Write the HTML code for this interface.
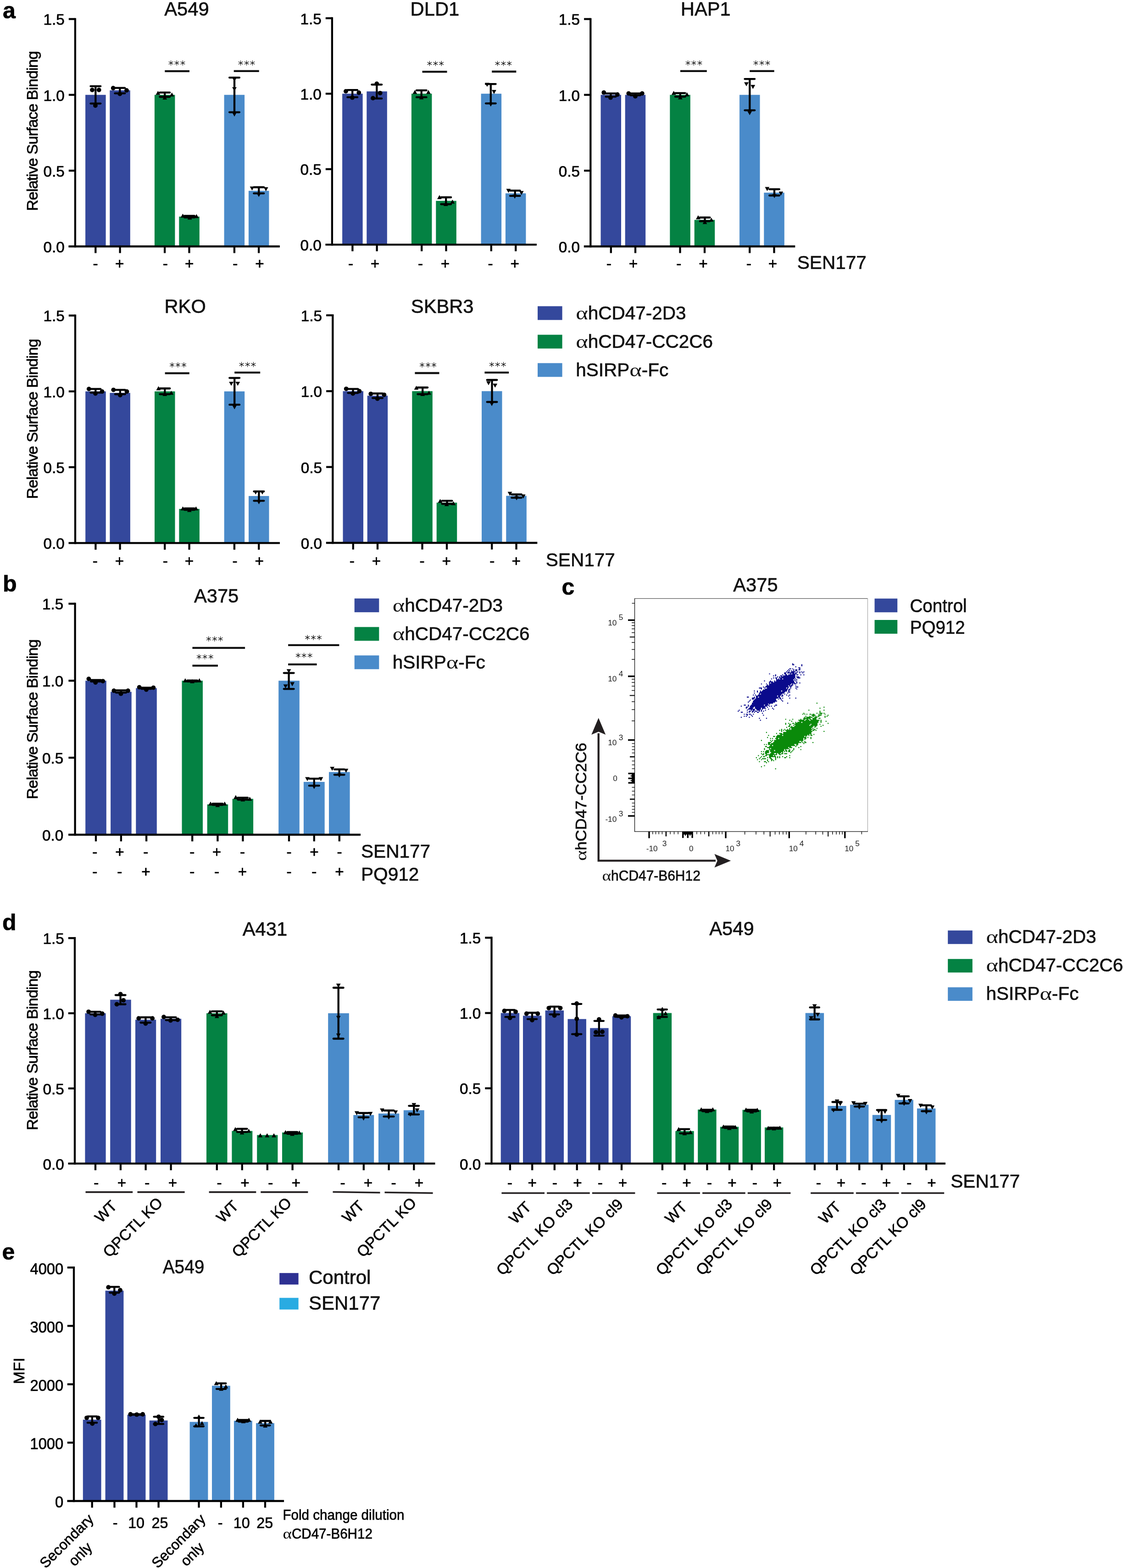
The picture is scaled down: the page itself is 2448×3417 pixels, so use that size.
<!DOCTYPE html>
<html lang="en"><head><meta charset="utf-8"><title>Figure</title>
<style>
html,body{margin:0;padding:0;background:#fff}
svg{display:block}
text{font-family:"Liberation Sans", sans-serif;stroke:#000;stroke-width:.7px}
.b{stroke-width:.6px}
.ft{font-size:17.2px;stroke:none;fill:#222}
.st{font-family:"DejaVu Sans","Liberation Sans",sans-serif;font-weight:200;font-size:22.5px;letter-spacing:1.6px;text-anchor:middle;fill:#111;stroke:#111;stroke-width:.5px}
.al{font-family:"Liberation Serif","DejaVu Serif",serif;stroke:none}
</style></head><body>
<svg width="2448" height="3417" viewBox="0 0 2448 3417">
<rect width="2448" height="3417" fill="#fff"/>
<text x="6" y="39.5" font-size="50" font-weight="bold">a</text>
<rect x="186.1" y="206.7" width="44.5" height="330.3" fill="#34489C"/>
<rect x="239.3" y="196.8" width="44.5" height="340.2" fill="#34489C"/>
<rect x="336.9" y="206.7" width="44.5" height="330.3" fill="#048243"/>
<rect x="390.3" y="472" width="44.5" height="65.1" fill="#048243"/>
<rect x="488.6" y="206.7" width="44.5" height="330.3" fill="#4A8BCA"/>
<rect x="541.9" y="415.8" width="44.5" height="121.2" fill="#4A8BCA"/>
<line x1="163.9" y1="39.4" x2="163.9" y2="539.2" stroke="#000" stroke-width="4.3"/>
<line x1="149.4" y1="537" x2="609.9" y2="537" stroke="#000" stroke-width="4.3"/>
<text x="140.8" y="549.8" font-size="33.3" text-anchor="end">0.0</text>
<line x1="149.8" y1="371.9" x2="163.9" y2="371.9" stroke="#000" stroke-width="4.3"/>
<text x="140.8" y="384.7" font-size="33.3" text-anchor="end">0.5</text>
<line x1="149.8" y1="206.7" x2="163.9" y2="206.7" stroke="#000" stroke-width="4.3"/>
<text x="140.8" y="219.5" font-size="33.3" text-anchor="end">1.0</text>
<line x1="149.8" y1="41.5" x2="163.9" y2="41.5" stroke="#000" stroke-width="4.3"/>
<text x="140.8" y="54.3" font-size="33.3" text-anchor="end">1.5</text>
<line x1="208.3" y1="537" x2="208.3" y2="551.5" stroke="#000" stroke-width="4.3"/>
<line x1="261.6" y1="537" x2="261.6" y2="551.5" stroke="#000" stroke-width="4.3"/>
<line x1="359.1" y1="537" x2="359.1" y2="551.5" stroke="#000" stroke-width="4.3"/>
<line x1="412.5" y1="537" x2="412.5" y2="551.5" stroke="#000" stroke-width="4.3"/>
<line x1="510.9" y1="537" x2="510.9" y2="551.5" stroke="#000" stroke-width="4.3"/>
<line x1="564.1" y1="537" x2="564.1" y2="551.5" stroke="#000" stroke-width="4.3"/>
<text x="407" y="33.8" font-size="41.7" class="b" stroke="#111" text-anchor="middle" fill="#111">A549</text>
<text x="208" y="585.6" font-size="33.3" text-anchor="middle">-</text>
<text x="260.7" y="585.6" font-size="33.3" text-anchor="middle">+</text>
<text x="360.4" y="585.6" font-size="33.3" text-anchor="middle">-</text>
<text x="412.8" y="585.6" font-size="33.3" text-anchor="middle">+</text>
<text x="512.8" y="585.6" font-size="33.3" text-anchor="middle">-</text>
<text x="566" y="585.6" font-size="33.3" text-anchor="middle">+</text>
<text x="82.5" y="285.3" font-size="34" text-anchor="middle" transform="rotate(-90 82.5 285.3)" textLength="349" lengthAdjust="spacing">Relative Surface Binding</text>
<rect x="746.1" y="204.2" width="44.5" height="328.9" fill="#34489C"/>
<rect x="799.3" y="199.2" width="44.5" height="333.9" fill="#34489C"/>
<rect x="896.9" y="204.2" width="44.5" height="328.9" fill="#048243"/>
<rect x="950.3" y="437.7" width="44.5" height="95.4" fill="#048243"/>
<rect x="1048.6" y="204.2" width="44.5" height="328.9" fill="#4A8BCA"/>
<rect x="1101.9" y="421.3" width="44.5" height="111.8" fill="#4A8BCA"/>
<line x1="723.9" y1="37.6" x2="723.9" y2="535.2" stroke="#000" stroke-width="4.3"/>
<line x1="709.4" y1="533.1" x2="1169.9" y2="533.1" stroke="#000" stroke-width="4.3"/>
<text x="700.8" y="545.9" font-size="33.3" text-anchor="end">0.0</text>
<line x1="709.8" y1="368.6" x2="723.9" y2="368.6" stroke="#000" stroke-width="4.3"/>
<text x="700.8" y="381.4" font-size="33.3" text-anchor="end">0.5</text>
<line x1="709.8" y1="204.2" x2="723.9" y2="204.2" stroke="#000" stroke-width="4.3"/>
<text x="700.8" y="217" font-size="33.3" text-anchor="end">1.0</text>
<line x1="709.8" y1="39.7" x2="723.9" y2="39.7" stroke="#000" stroke-width="4.3"/>
<text x="700.8" y="52.5" font-size="33.3" text-anchor="end">1.5</text>
<line x1="768.4" y1="533.1" x2="768.4" y2="547.5" stroke="#000" stroke-width="4.3"/>
<line x1="821.6" y1="533.1" x2="821.6" y2="547.5" stroke="#000" stroke-width="4.3"/>
<line x1="919.2" y1="533.1" x2="919.2" y2="547.5" stroke="#000" stroke-width="4.3"/>
<line x1="972.5" y1="533.1" x2="972.5" y2="547.5" stroke="#000" stroke-width="4.3"/>
<line x1="1070.8" y1="533.1" x2="1070.8" y2="547.5" stroke="#000" stroke-width="4.3"/>
<line x1="1124.2" y1="533.1" x2="1124.2" y2="547.5" stroke="#000" stroke-width="4.3"/>
<text x="947.9" y="33.8" font-size="41.7" class="b" stroke="#111" text-anchor="middle" fill="#111">DLD1</text>
<text x="764.5" y="586" font-size="33.3" text-anchor="middle">-</text>
<text x="817.6" y="586" font-size="33.3" text-anchor="middle">+</text>
<text x="916.6" y="586" font-size="33.3" text-anchor="middle">-</text>
<text x="970.5" y="586" font-size="33.3" text-anchor="middle">+</text>
<text x="1069" y="586" font-size="33.3" text-anchor="middle">-</text>
<text x="1122.2" y="586" font-size="33.3" text-anchor="middle">+</text>
<rect x="1309.5" y="206.7" width="44.5" height="330.3" fill="#34489C"/>
<rect x="1362.7" y="206.7" width="44.5" height="330.3" fill="#34489C"/>
<rect x="1460.3" y="206.7" width="44.5" height="330.3" fill="#048243"/>
<rect x="1513.7" y="479.2" width="44.5" height="57.8" fill="#048243"/>
<rect x="1612" y="206.7" width="44.5" height="330.3" fill="#4A8BCA"/>
<rect x="1665.3" y="419.8" width="44.5" height="117.3" fill="#4A8BCA"/>
<line x1="1287.3" y1="39.4" x2="1287.3" y2="539.2" stroke="#000" stroke-width="4.3"/>
<line x1="1272.8" y1="537" x2="1733.3" y2="537" stroke="#000" stroke-width="4.3"/>
<text x="1264.1" y="549.8" font-size="33.3" text-anchor="end">0.0</text>
<line x1="1273.1" y1="371.9" x2="1287.3" y2="371.9" stroke="#000" stroke-width="4.3"/>
<text x="1264.1" y="384.7" font-size="33.3" text-anchor="end">0.5</text>
<line x1="1273.1" y1="206.7" x2="1287.3" y2="206.7" stroke="#000" stroke-width="4.3"/>
<text x="1264.1" y="219.5" font-size="33.3" text-anchor="end">1.0</text>
<line x1="1273.1" y1="41.5" x2="1287.3" y2="41.5" stroke="#000" stroke-width="4.3"/>
<text x="1264.1" y="54.3" font-size="33.3" text-anchor="end">1.5</text>
<line x1="1331.8" y1="537" x2="1331.8" y2="551.5" stroke="#000" stroke-width="4.3"/>
<line x1="1385" y1="537" x2="1385" y2="551.5" stroke="#000" stroke-width="4.3"/>
<line x1="1482.5" y1="537" x2="1482.5" y2="551.5" stroke="#000" stroke-width="4.3"/>
<line x1="1536" y1="537" x2="1536" y2="551.5" stroke="#000" stroke-width="4.3"/>
<line x1="1634.2" y1="537" x2="1634.2" y2="551.5" stroke="#000" stroke-width="4.3"/>
<line x1="1687.5" y1="537" x2="1687.5" y2="551.5" stroke="#000" stroke-width="4.3"/>
<text x="1538.3" y="33.8" font-size="41.7" class="b" stroke="#111" text-anchor="middle" fill="#111">HAP1</text>
<text x="1327.4" y="586" font-size="33.3" text-anchor="middle">-</text>
<text x="1380.6" y="586" font-size="33.3" text-anchor="middle">+</text>
<text x="1479.8" y="586" font-size="33.3" text-anchor="middle">-</text>
<text x="1533" y="586" font-size="33.3" text-anchor="middle">+</text>
<text x="1632.2" y="586" font-size="33.3" text-anchor="middle">-</text>
<text x="1684.6" y="586" font-size="33.3" text-anchor="middle">+</text>
<text x="1737.8" y="585.6" font-size="40.6" class="b" stroke="#111" fill="#111">SEN177</text>
<rect x="186.2" y="852.9" width="44.5" height="330.5" fill="#34489C"/>
<rect x="239.4" y="856.2" width="44.5" height="327.2" fill="#34489C"/>
<rect x="337" y="852.9" width="44.5" height="330.5" fill="#048243"/>
<rect x="390.4" y="1109" width="44.5" height="74.4" fill="#048243"/>
<rect x="488.7" y="852.9" width="44.5" height="330.5" fill="#4A8BCA"/>
<rect x="542" y="1080.9" width="44.5" height="102.5" fill="#4A8BCA"/>
<line x1="164" y1="685.5" x2="164" y2="1185.6" stroke="#000" stroke-width="4.3"/>
<line x1="149.5" y1="1183.4" x2="610" y2="1183.4" stroke="#000" stroke-width="4.3"/>
<text x="140.8" y="1196.2" font-size="33.3" text-anchor="end">0.0</text>
<line x1="149.8" y1="1018.1" x2="164" y2="1018.1" stroke="#000" stroke-width="4.3"/>
<text x="140.8" y="1030.9" font-size="33.3" text-anchor="end">0.5</text>
<line x1="149.8" y1="852.9" x2="164" y2="852.9" stroke="#000" stroke-width="4.3"/>
<text x="140.8" y="865.7" font-size="33.3" text-anchor="end">1.0</text>
<line x1="149.8" y1="687.6" x2="164" y2="687.6" stroke="#000" stroke-width="4.3"/>
<text x="140.8" y="700.4" font-size="33.3" text-anchor="end">1.5</text>
<line x1="208.4" y1="1183.4" x2="208.4" y2="1197.9" stroke="#000" stroke-width="4.3"/>
<line x1="261.6" y1="1183.4" x2="261.6" y2="1197.9" stroke="#000" stroke-width="4.3"/>
<line x1="359.2" y1="1183.4" x2="359.2" y2="1197.9" stroke="#000" stroke-width="4.3"/>
<line x1="412.6" y1="1183.4" x2="412.6" y2="1197.9" stroke="#000" stroke-width="4.3"/>
<line x1="510.9" y1="1183.4" x2="510.9" y2="1197.9" stroke="#000" stroke-width="4.3"/>
<line x1="564.2" y1="1183.4" x2="564.2" y2="1197.9" stroke="#000" stroke-width="4.3"/>
<text x="403.7" y="682.2" font-size="41.7" class="b" stroke="#111" text-anchor="middle" fill="#111">RKO</text>
<text x="207.4" y="1234.2" font-size="33.3" text-anchor="middle">-</text>
<text x="260.6" y="1234.2" font-size="33.3" text-anchor="middle">+</text>
<text x="360.4" y="1234.2" font-size="33.3" text-anchor="middle">-</text>
<text x="412.4" y="1234.2" font-size="33.3" text-anchor="middle">+</text>
<text x="512" y="1234.2" font-size="33.3" text-anchor="middle">-</text>
<text x="565.2" y="1234.2" font-size="33.3" text-anchor="middle">+</text>
<text x="82.5" y="912.7" font-size="34" text-anchor="middle" transform="rotate(-90 82.5 912.7)" textLength="349" lengthAdjust="spacing">Relative Surface Binding</text>
<rect x="747.5" y="852.4" width="44.5" height="330.6" fill="#34489C"/>
<rect x="800.7" y="862.3" width="44.5" height="320.7" fill="#34489C"/>
<rect x="898.3" y="852.4" width="44.5" height="330.6" fill="#048243"/>
<rect x="951.7" y="1095.4" width="44.5" height="87.6" fill="#048243"/>
<rect x="1050" y="852.4" width="44.5" height="330.6" fill="#4A8BCA"/>
<rect x="1103.3" y="1080.5" width="44.5" height="102.5" fill="#4A8BCA"/>
<line x1="725.3" y1="685" x2="725.3" y2="1185.2" stroke="#000" stroke-width="4.3"/>
<line x1="710.8" y1="1183" x2="1171.3" y2="1183" stroke="#000" stroke-width="4.3"/>
<text x="702.1" y="1195.8" font-size="33.3" text-anchor="end">0.0</text>
<line x1="711.1" y1="1017.7" x2="725.3" y2="1017.7" stroke="#000" stroke-width="4.3"/>
<text x="702.1" y="1030.5" font-size="33.3" text-anchor="end">0.5</text>
<line x1="711.1" y1="852.4" x2="725.3" y2="852.4" stroke="#000" stroke-width="4.3"/>
<text x="702.1" y="865.2" font-size="33.3" text-anchor="end">1.0</text>
<line x1="711.1" y1="687.1" x2="725.3" y2="687.1" stroke="#000" stroke-width="4.3"/>
<text x="702.1" y="699.9" font-size="33.3" text-anchor="end">1.5</text>
<line x1="769.8" y1="1183" x2="769.8" y2="1197.5" stroke="#000" stroke-width="4.3"/>
<line x1="823" y1="1183" x2="823" y2="1197.5" stroke="#000" stroke-width="4.3"/>
<line x1="920.5" y1="1183" x2="920.5" y2="1197.5" stroke="#000" stroke-width="4.3"/>
<line x1="974" y1="1183" x2="974" y2="1197.5" stroke="#000" stroke-width="4.3"/>
<line x1="1072.2" y1="1183" x2="1072.2" y2="1197.5" stroke="#000" stroke-width="4.3"/>
<line x1="1125.5" y1="1183" x2="1125.5" y2="1197.5" stroke="#000" stroke-width="4.3"/>
<text x="964.2" y="682.2" font-size="41.7" class="b" stroke="#111" text-anchor="middle" fill="#111">SKBR3</text>
<text x="767.4" y="1234.2" font-size="33.3" text-anchor="middle">-</text>
<text x="820.6" y="1234.2" font-size="33.3" text-anchor="middle">+</text>
<text x="920.1" y="1234.2" font-size="33.3" text-anchor="middle">-</text>
<text x="973.3" y="1234.2" font-size="33.3" text-anchor="middle">+</text>
<text x="1072.9" y="1234.2" font-size="33.3" text-anchor="middle">-</text>
<text x="1125.3" y="1234.2" font-size="33.3" text-anchor="middle">+</text>
<text x="1189.8" y="1233.8" font-size="40.6" class="b" stroke="#111" fill="#111">SEN177</text>
<rect x="1172" y="667.3" width="53.6" height="30" fill="#34489C"/>
<text x="1255.2" y="695.9" font-size="40.5" class="b" stroke="#111" fill="#111"><tspan class="al" font-size="40.1" textLength="26.5" lengthAdjust="spacingAndGlyphs">α</tspan>hCD47-2D3</text>
<rect x="1172" y="729.5" width="53.6" height="30" fill="#048243"/>
<text x="1255.2" y="758.1" font-size="40.5" class="b" stroke="#111" fill="#111"><tspan class="al" font-size="40.1" textLength="26.5" lengthAdjust="spacingAndGlyphs">α</tspan>hCD47-CC2C6</text>
<rect x="1172" y="791.3" width="53.6" height="30" fill="#4A8BCA"/>
<text x="1255.2" y="819.9" font-size="40.5" class="b" stroke="#111" fill="#111">hSIRP<tspan class="al" font-size="40.1" textLength="26.5" lengthAdjust="spacingAndGlyphs">α</tspan>-Fc</text>
<line x1="208.3" y1="187.9" x2="208.3" y2="225.6" stroke="#000" stroke-width="4.3"/>
<line x1="197.5" y1="187.9" x2="219.2" y2="187.9" stroke="#000" stroke-width="4.3" stroke-linecap="round"/>
<line x1="197.5" y1="225.6" x2="219.2" y2="225.6" stroke="#000" stroke-width="4.3" stroke-linecap="round"/>
<circle cx="201" cy="196" r="4.9"/>
<circle cx="215.7" cy="196" r="4.9"/>
<circle cx="207.9" cy="230" r="4.9"/>
<line x1="261.3" y1="191.7" x2="261.3" y2="203.4" stroke="#000" stroke-width="4.3"/>
<line x1="250.5" y1="191.7" x2="272.2" y2="191.7" stroke="#000" stroke-width="4.3" stroke-linecap="round"/>
<line x1="250.5" y1="203.4" x2="272.2" y2="203.4" stroke="#000" stroke-width="4.3" stroke-linecap="round"/>
<circle cx="246.7" cy="192" r="4.9"/>
<circle cx="276" cy="196.9" r="4.9"/>
<circle cx="261.3" cy="204.6" r="4.9"/>
<line x1="359.2" y1="201.7" x2="359.2" y2="211" stroke="#000" stroke-width="4.3"/>
<line x1="348.3" y1="201.7" x2="370.1" y2="201.7" stroke="#000" stroke-width="4.3" stroke-linecap="round"/>
<line x1="348.3" y1="211" x2="370.1" y2="211" stroke="#000" stroke-width="4.3" stroke-linecap="round"/>
<polygon points="344.4,198 339.5,206.8 349.3,206.8"/>
<polygon points="374.7,201.4 369.8,210.2 379.6,210.2"/>
<polygon points="359.2,208.3 354.3,217.1 364.1,217.1"/>
<line x1="413" y1="470.4" x2="413" y2="473.8" stroke="#000" stroke-width="4.3"/>
<line x1="402.1" y1="470.4" x2="423.9" y2="470.4" stroke="#000" stroke-width="4.3" stroke-linecap="round"/>
<line x1="402.1" y1="473.8" x2="423.9" y2="473.8" stroke="#000" stroke-width="4.3" stroke-linecap="round"/>
<polygon points="398.5,465.5 393.6,474.3 403.4,474.3"/>
<polygon points="428.3,466.4 423.4,475.2 433.2,475.2"/>
<polygon points="413.6,469.6 408.7,478.4 418.5,478.4"/>
<line x1="511" y1="169.1" x2="511" y2="244.6" stroke="#000" stroke-width="4.3"/>
<line x1="500.1" y1="169.1" x2="521.9" y2="169.1" stroke="#000" stroke-width="4.3" stroke-linecap="round"/>
<line x1="500.1" y1="244.6" x2="521.9" y2="244.6" stroke="#000" stroke-width="4.3" stroke-linecap="round"/>
<polygon points="511,177.9 506.1,169.1 515.9,169.1"/>
<polygon points="511,198.7 506.1,189.9 515.9,189.9"/>
<polygon points="511,253.9 506.1,245.1 515.9,245.1"/>
<line x1="564.2" y1="408" x2="564.2" y2="421.4" stroke="#000" stroke-width="4.3"/>
<line x1="553.4" y1="408" x2="575.1" y2="408" stroke="#000" stroke-width="4.3" stroke-linecap="round"/>
<line x1="553.4" y1="421.4" x2="575.1" y2="421.4" stroke="#000" stroke-width="4.3" stroke-linecap="round"/>
<polygon points="549.5,415.2 544.6,406.4 554.4,406.4"/>
<polygon points="579.7,416.7 574.8,407.9 584.6,407.9"/>
<polygon points="564.2,429.2 559.3,420.4 569.1,420.4"/>
<line x1="359.3" y1="155.2" x2="413" y2="155.2" stroke="#111" stroke-width="4.3"/>
<text x="386.3" y="149.1" class="st">***</text>
<line x1="509.7" y1="154.8" x2="564.7" y2="154.8" stroke="#111" stroke-width="4.3"/>
<text x="538.4" y="148.7" class="st">***</text>
<line x1="768.2" y1="196.1" x2="768.2" y2="211.9" stroke="#000" stroke-width="4.3"/>
<line x1="757.4" y1="196.1" x2="779.1" y2="196.1" stroke="#000" stroke-width="4.3" stroke-linecap="round"/>
<line x1="757.4" y1="211.9" x2="779.1" y2="211.9" stroke="#000" stroke-width="4.3" stroke-linecap="round"/>
<circle cx="753.9" cy="198.9" r="4.9"/>
<circle cx="782.3" cy="202" r="4.9"/>
<circle cx="768" cy="212.7" r="4.9"/>
<line x1="821.3" y1="184.3" x2="821.3" y2="214.7" stroke="#000" stroke-width="4.3"/>
<line x1="810.4" y1="184.3" x2="832.1" y2="184.3" stroke="#000" stroke-width="4.3" stroke-linecap="round"/>
<line x1="810.4" y1="214.7" x2="832.1" y2="214.7" stroke="#000" stroke-width="4.3" stroke-linecap="round"/>
<circle cx="821.3" cy="182.4" r="4.9"/>
<circle cx="828.7" cy="202.8" r="4.9"/>
<circle cx="813" cy="213.9" r="4.9"/>
<line x1="918.7" y1="196.9" x2="918.7" y2="211.9" stroke="#000" stroke-width="4.3"/>
<line x1="907.9" y1="196.9" x2="929.6" y2="196.9" stroke="#000" stroke-width="4.3" stroke-linecap="round"/>
<line x1="907.9" y1="211.9" x2="929.6" y2="211.9" stroke="#000" stroke-width="4.3" stroke-linecap="round"/>
<polygon points="904.4,196 899.5,204.8 909.3,204.8"/>
<polygon points="933.9,196 929,204.8 938.8,204.8"/>
<polygon points="918.5,207.8 913.6,216.6 923.4,216.6"/>
<line x1="972.2" y1="430" x2="972.2" y2="445" stroke="#000" stroke-width="4.3"/>
<line x1="961.4" y1="430" x2="983.1" y2="430" stroke="#000" stroke-width="4.3" stroke-linecap="round"/>
<line x1="961.4" y1="445" x2="983.1" y2="445" stroke="#000" stroke-width="4.3" stroke-linecap="round"/>
<polygon points="957.9,425.1 953,433.9 962.8,433.9"/>
<polygon points="986.3,434.9 981.4,443.7 991.2,443.7"/>
<polygon points="971.7,440.1 966.8,448.9 976.6,448.9"/>
<line x1="1069.8" y1="183.1" x2="1069.8" y2="225.3" stroke="#000" stroke-width="4.3"/>
<line x1="1059" y1="183.1" x2="1080.6" y2="183.1" stroke="#000" stroke-width="4.3" stroke-linecap="round"/>
<line x1="1059" y1="225.3" x2="1080.6" y2="225.3" stroke="#000" stroke-width="4.3" stroke-linecap="round"/>
<polygon points="1061.9,189.2 1057,180.4 1066.8,180.4"/>
<polygon points="1076.9,204.9 1072,196.1 1081.8,196.1"/>
<polygon points="1069.8,232.2 1064.9,223.4 1074.7,223.4"/>
<line x1="1122.7" y1="415.4" x2="1122.7" y2="426.8" stroke="#000" stroke-width="4.3"/>
<line x1="1111.9" y1="415.4" x2="1133.5" y2="415.4" stroke="#000" stroke-width="4.3" stroke-linecap="round"/>
<line x1="1111.9" y1="426.8" x2="1133.5" y2="426.8" stroke="#000" stroke-width="4.3" stroke-linecap="round"/>
<polygon points="1108.4,420.3 1103.5,411.5 1113.3,411.5"/>
<polygon points="1136.7,425 1131.8,416.2 1141.6,416.2"/>
<polygon points="1122.2,432.9 1117.3,424.1 1127.1,424.1"/>
<line x1="920.5" y1="156.4" x2="974.5" y2="156.4" stroke="#111" stroke-width="4.3"/>
<text x="950.1" y="150.3" class="st">***</text>
<line x1="1072.2" y1="156" x2="1125.3" y2="156" stroke="#111" stroke-width="4.3"/>
<text x="1098.1" y="149.9" class="st">***</text>
<line x1="1331.4" y1="203.6" x2="1331.4" y2="210.7" stroke="#000" stroke-width="4.3"/>
<line x1="1320.6" y1="203.6" x2="1342.2" y2="203.6" stroke="#000" stroke-width="4.3" stroke-linecap="round"/>
<line x1="1320.6" y1="210.7" x2="1342.2" y2="210.7" stroke="#000" stroke-width="4.3" stroke-linecap="round"/>
<circle cx="1316.3" cy="201.7" r="4.9"/>
<circle cx="1345.9" cy="206" r="4.9"/>
<circle cx="1330.9" cy="212.7" r="4.9"/>
<line x1="1385" y1="203.6" x2="1385" y2="207.6" stroke="#000" stroke-width="4.3"/>
<line x1="1374.2" y1="203.6" x2="1395.8" y2="203.6" stroke="#000" stroke-width="4.3" stroke-linecap="round"/>
<line x1="1374.2" y1="207.6" x2="1395.8" y2="207.6" stroke="#000" stroke-width="4.3" stroke-linecap="round"/>
<circle cx="1370.3" cy="203.6" r="4.9"/>
<circle cx="1399.8" cy="203.6" r="4.9"/>
<circle cx="1384.9" cy="209.9" r="4.9"/>
<line x1="1482.8" y1="202.8" x2="1482.8" y2="210.7" stroke="#000" stroke-width="4.3"/>
<line x1="1472" y1="202.8" x2="1493.6" y2="202.8" stroke="#000" stroke-width="4.3" stroke-linecap="round"/>
<line x1="1472" y1="210.7" x2="1493.6" y2="210.7" stroke="#000" stroke-width="4.3" stroke-linecap="round"/>
<polygon points="1468.7,197.9 1463.8,206.7 1473.6,206.7"/>
<polygon points="1497.5,201.1 1492.6,209.9 1502.4,209.9"/>
<polygon points="1482.9,207.8 1478,216.6 1487.8,216.6"/>
<line x1="1536.5" y1="474" x2="1536.5" y2="482" stroke="#000" stroke-width="4.3"/>
<line x1="1525.7" y1="474" x2="1547.3" y2="474" stroke="#000" stroke-width="4.3" stroke-linecap="round"/>
<line x1="1525.7" y1="482" x2="1547.3" y2="482" stroke="#000" stroke-width="4.3" stroke-linecap="round"/>
<polygon points="1521.9,469.1 1517,477.9 1526.8,477.9"/>
<polygon points="1550.7,474.3 1545.8,483.1 1555.6,483.1"/>
<polygon points="1536.5,479.4 1531.6,488.2 1541.4,488.2"/>
<line x1="1634.3" y1="172.1" x2="1634.3" y2="240.3" stroke="#000" stroke-width="4.3"/>
<line x1="1623.5" y1="172.1" x2="1645.1" y2="172.1" stroke="#000" stroke-width="4.3" stroke-linecap="round"/>
<line x1="1623.5" y1="240.3" x2="1645.1" y2="240.3" stroke="#000" stroke-width="4.3" stroke-linecap="round"/>
<polygon points="1627,188 1622.1,179.2 1631.9,179.2"/>
<polygon points="1641.3,193.9 1636.4,185.1 1646.2,185.1"/>
<polygon points="1634.2,251.1 1629.3,242.3 1639.1,242.3"/>
<line x1="1688" y1="412.3" x2="1688" y2="426" stroke="#000" stroke-width="4.3"/>
<line x1="1677.2" y1="412.3" x2="1698.8" y2="412.3" stroke="#000" stroke-width="4.3" stroke-linecap="round"/>
<line x1="1677.2" y1="426" x2="1698.8" y2="426" stroke="#000" stroke-width="4.3" stroke-linecap="round"/>
<polygon points="1672.4,416.4 1667.5,407.6 1677.3,407.6"/>
<polygon points="1702.3,426.2 1697.4,417.4 1707.2,417.4"/>
<polygon points="1688.1,431.7 1683.2,422.9 1693,422.9"/>
<line x1="1482.9" y1="154.8" x2="1540.8" y2="154.8" stroke="#111" stroke-width="4.3"/>
<text x="1513.3" y="148.7" class="st">***</text>
<line x1="1634.2" y1="154.8" x2="1687.7" y2="154.8" stroke="#111" stroke-width="4.3"/>
<text x="1661.4" y="148.7" class="st">***</text>
<line x1="208.3" y1="847.6" x2="208.3" y2="855.5" stroke="#000" stroke-width="4.3"/>
<line x1="197.5" y1="847.6" x2="219.2" y2="847.6" stroke="#000" stroke-width="4.3" stroke-linecap="round"/>
<line x1="197.5" y1="855.5" x2="219.2" y2="855.5" stroke="#000" stroke-width="4.3" stroke-linecap="round"/>
<circle cx="193.8" cy="847.6" r="4.9"/>
<circle cx="222.5" cy="853.2" r="4.9"/>
<circle cx="208" cy="857.5" r="4.9"/>
<line x1="261.9" y1="849.6" x2="261.9" y2="859" stroke="#000" stroke-width="4.3"/>
<line x1="251" y1="849.6" x2="272.8" y2="849.6" stroke="#000" stroke-width="4.3" stroke-linecap="round"/>
<line x1="251" y1="859" x2="272.8" y2="859" stroke="#000" stroke-width="4.3" stroke-linecap="round"/>
<circle cx="247.3" cy="849.6" r="4.9"/>
<circle cx="276.5" cy="853.2" r="4.9"/>
<circle cx="261.9" cy="861" r="4.9"/>
<line x1="359.3" y1="846.5" x2="359.3" y2="859" stroke="#000" stroke-width="4.3"/>
<line x1="348.4" y1="846.5" x2="370.2" y2="846.5" stroke="#000" stroke-width="4.3" stroke-linecap="round"/>
<line x1="348.4" y1="859" x2="370.2" y2="859" stroke="#000" stroke-width="4.3" stroke-linecap="round"/>
<polygon points="345.4,841.6 340.5,850.4 350.3,850.4"/>
<polygon points="373.4,851.4 368.5,860.2 378.3,860.2"/>
<polygon points="359.3,854.1 354.4,862.9 364.2,862.9"/>
<line x1="413" y1="1108" x2="413" y2="1111" stroke="#000" stroke-width="4.3"/>
<line x1="402.1" y1="1108" x2="423.9" y2="1108" stroke="#000" stroke-width="4.3" stroke-linecap="round"/>
<line x1="402.1" y1="1111" x2="423.9" y2="1111" stroke="#000" stroke-width="4.3" stroke-linecap="round"/>
<polygon points="398.6,1103.4 393.7,1112.2 403.5,1112.2"/>
<polygon points="427.3,1103.4 422.4,1112.2 432.2,1112.2"/>
<polygon points="412.8,1106.9 407.9,1115.7 417.7,1115.7"/>
<line x1="511.2" y1="823.6" x2="511.2" y2="881.9" stroke="#000" stroke-width="4.3"/>
<line x1="500.3" y1="823.6" x2="522.1" y2="823.6" stroke="#000" stroke-width="4.3" stroke-linecap="round"/>
<line x1="500.3" y1="881.9" x2="522.1" y2="881.9" stroke="#000" stroke-width="4.3" stroke-linecap="round"/>
<polygon points="504.1,840.7 499.2,831.9 509,831.9"/>
<polygon points="518.3,840.7 513.4,831.9 523.2,831.9"/>
<polygon points="511.2,891.9 506.3,883.1 516.1,883.1"/>
<line x1="564.4" y1="1070.8" x2="564.4" y2="1091.3" stroke="#000" stroke-width="4.3"/>
<line x1="553.5" y1="1070.8" x2="575.2" y2="1070.8" stroke="#000" stroke-width="4.3" stroke-linecap="round"/>
<line x1="553.5" y1="1091.3" x2="575.2" y2="1091.3" stroke="#000" stroke-width="4.3" stroke-linecap="round"/>
<polygon points="557.3,1077.7 552.4,1068.9 562.2,1068.9"/>
<polygon points="571.9,1077.7 567,1068.9 576.8,1068.9"/>
<polygon points="564.4,1098.9 559.5,1090.1 569.3,1090.1"/>
<line x1="359.6" y1="813.4" x2="412.8" y2="813.4" stroke="#111" stroke-width="4.3"/>
<text x="388.8" y="807.3" class="st">***</text>
<line x1="511.2" y1="811.8" x2="567.2" y2="811.8" stroke="#111" stroke-width="4.3"/>
<text x="540.4" y="805.7" class="st">***</text>
<line x1="769.5" y1="847.6" x2="769.5" y2="856.3" stroke="#000" stroke-width="4.3"/>
<line x1="758.6" y1="847.6" x2="780.4" y2="847.6" stroke="#000" stroke-width="4.3" stroke-linecap="round"/>
<line x1="758.6" y1="856.3" x2="780.4" y2="856.3" stroke="#000" stroke-width="4.3" stroke-linecap="round"/>
<circle cx="754.7" cy="847.3" r="4.9"/>
<circle cx="783.4" cy="852.4" r="4.9"/>
<circle cx="769.3" cy="857.5" r="4.9"/>
<line x1="823" y1="857.5" x2="823" y2="867.3" stroke="#000" stroke-width="4.3"/>
<line x1="812.1" y1="857.5" x2="833.9" y2="857.5" stroke="#000" stroke-width="4.3" stroke-linecap="round"/>
<line x1="812.1" y1="867.3" x2="833.9" y2="867.3" stroke="#000" stroke-width="4.3" stroke-linecap="round"/>
<circle cx="808.3" cy="858.3" r="4.9"/>
<circle cx="837.4" cy="860.3" r="4.9"/>
<circle cx="822.8" cy="868.9" r="4.9"/>
<line x1="921.2" y1="844.5" x2="921.2" y2="859" stroke="#000" stroke-width="4.3"/>
<line x1="910.4" y1="844.5" x2="932.1" y2="844.5" stroke="#000" stroke-width="4.3" stroke-linecap="round"/>
<line x1="910.4" y1="859" x2="932.1" y2="859" stroke="#000" stroke-width="4.3" stroke-linecap="round"/>
<polygon points="907.5,840.4 902.6,849.2 912.4,849.2"/>
<polygon points="935.1,851.4 930.2,860.2 940,860.2"/>
<polygon points="921.2,854.1 916.3,862.9 926.1,862.9"/>
<line x1="974.5" y1="1091.3" x2="974.5" y2="1098" stroke="#000" stroke-width="4.3"/>
<line x1="963.6" y1="1091.3" x2="985.4" y2="1091.3" stroke="#000" stroke-width="4.3" stroke-linecap="round"/>
<line x1="963.6" y1="1098" x2="985.4" y2="1098" stroke="#000" stroke-width="4.3" stroke-linecap="round"/>
<polygon points="959.5,1087.2 954.6,1096 964.4,1096"/>
<polygon points="988.3,1092.3 983.4,1101.1 993.2,1101.1"/>
<polygon points="973.7,1094.3 968.8,1103.1 978.6,1103.1"/>
<line x1="1072.5" y1="828" x2="1072.5" y2="876" stroke="#000" stroke-width="4.3"/>
<line x1="1061.7" y1="828" x2="1083.3" y2="828" stroke="#000" stroke-width="4.3" stroke-linecap="round"/>
<line x1="1061.7" y1="876" x2="1083.3" y2="876" stroke="#000" stroke-width="4.3" stroke-linecap="round"/>
<polygon points="1065,839.6 1060.1,830.8 1069.9,830.8"/>
<polygon points="1079.2,844.7 1074.3,835.9 1084.1,835.9"/>
<polygon points="1072.1,884.9 1067.2,876.1 1077,876.1"/>
<line x1="1126" y1="1077.5" x2="1126" y2="1084.6" stroke="#000" stroke-width="4.3"/>
<line x1="1115.2" y1="1077.5" x2="1136.8" y2="1077.5" stroke="#000" stroke-width="4.3" stroke-linecap="round"/>
<line x1="1115.2" y1="1084.6" x2="1136.8" y2="1084.6" stroke="#000" stroke-width="4.3" stroke-linecap="round"/>
<polygon points="1111.5,1080.5 1106.6,1071.7 1116.4,1071.7"/>
<polygon points="1140.7,1086.4 1135.8,1077.6 1145.6,1077.6"/>
<polygon points="1126.1,1090.3 1121.2,1081.5 1131,1081.5"/>
<line x1="904.4" y1="813" x2="957.5" y2="813" stroke="#111" stroke-width="4.3"/>
<text x="933.9" y="806.9" class="st">***</text>
<line x1="1056.4" y1="811.8" x2="1109.2" y2="811.8" stroke="#111" stroke-width="4.3"/>
<text x="1085.5" y="805.7" class="st">***</text>
<text x="6" y="1289.2" font-size="50" font-weight="bold">b</text>
<rect x="186.2" y="1483.4" width="45.6" height="335.6" fill="#34489C"/>
<rect x="241.1" y="1507.6" width="45.6" height="311.4" fill="#34489C"/>
<rect x="296.3" y="1499.5" width="45.5" height="319.5" fill="#34489C"/>
<rect x="396.5" y="1483.4" width="45.5" height="335.6" fill="#048243"/>
<rect x="451.7" y="1752.9" width="45.5" height="66.1" fill="#048243"/>
<rect x="506.6" y="1740.8" width="45.5" height="78.2" fill="#048243"/>
<rect x="607.2" y="1483.4" width="45.6" height="335.6" fill="#4A8BCA"/>
<rect x="661.9" y="1703.9" width="45.8" height="115.1" fill="#4A8BCA"/>
<rect x="717" y="1682.4" width="45.6" height="136.6" fill="#4A8BCA"/>
<line x1="163.6" y1="1313.4" x2="163.6" y2="1821.2" stroke="#000" stroke-width="4.3"/>
<line x1="149.1" y1="1819" x2="786" y2="1819" stroke="#000" stroke-width="4.3"/>
<text x="138.3" y="1831.8" font-size="33.3" text-anchor="end">0.0</text>
<line x1="149.4" y1="1651.2" x2="163.6" y2="1651.2" stroke="#000" stroke-width="4.3"/>
<text x="138.3" y="1664" font-size="33.3" text-anchor="end">0.5</text>
<line x1="149.4" y1="1483.4" x2="163.6" y2="1483.4" stroke="#000" stroke-width="4.3"/>
<text x="138.3" y="1496.2" font-size="33.3" text-anchor="end">1.0</text>
<line x1="149.4" y1="1315.6" x2="163.6" y2="1315.6" stroke="#000" stroke-width="4.3"/>
<text x="138.3" y="1328.4" font-size="33.3" text-anchor="end">1.5</text>
<line x1="209" y1="1819" x2="209" y2="1833.5" stroke="#000" stroke-width="4.3"/>
<line x1="263.9" y1="1819" x2="263.9" y2="1833.5" stroke="#000" stroke-width="4.3"/>
<line x1="319.1" y1="1819" x2="319.1" y2="1833.5" stroke="#000" stroke-width="4.3"/>
<line x1="419.2" y1="1819" x2="419.2" y2="1833.5" stroke="#000" stroke-width="4.3"/>
<line x1="474.4" y1="1819" x2="474.4" y2="1833.5" stroke="#000" stroke-width="4.3"/>
<line x1="529.4" y1="1819" x2="529.4" y2="1833.5" stroke="#000" stroke-width="4.3"/>
<line x1="630" y1="1819" x2="630" y2="1833.5" stroke="#000" stroke-width="4.3"/>
<line x1="684.8" y1="1819" x2="684.8" y2="1833.5" stroke="#000" stroke-width="4.3"/>
<line x1="739.8" y1="1819" x2="739.8" y2="1833.5" stroke="#000" stroke-width="4.3"/>
<text x="471.6" y="1312.9" font-size="41.7" class="b" stroke="#111" text-anchor="middle" fill="#111">A375</text>
<text x="82.3" y="1567.2" font-size="34" text-anchor="middle" transform="rotate(-90 82.3 1567.2)" textLength="349" lengthAdjust="spacing">Relative Surface Binding</text>
<text x="206.7" y="1867.8" font-size="33.3" text-anchor="middle">-</text>
<text x="260.9" y="1867.8" font-size="33.3" text-anchor="middle">+</text>
<text x="317.9" y="1867.8" font-size="33.3" text-anchor="middle">-</text>
<text x="418.7" y="1867.8" font-size="33.3" text-anchor="middle">-</text>
<text x="472.6" y="1867.8" font-size="33.3" text-anchor="middle">+</text>
<text x="528.6" y="1867.8" font-size="33.3" text-anchor="middle">-</text>
<text x="630.1" y="1867.8" font-size="33.3" text-anchor="middle">-</text>
<text x="684.9" y="1867.8" font-size="33.3" text-anchor="middle">+</text>
<text x="740" y="1867.8" font-size="33.3" text-anchor="middle">-</text>
<text x="206.7" y="1911.2" font-size="33.3" text-anchor="middle">-</text>
<text x="260.9" y="1911.2" font-size="33.3" text-anchor="middle">-</text>
<text x="317.9" y="1911.2" font-size="33.3" text-anchor="middle">+</text>
<text x="418.7" y="1911.2" font-size="33.3" text-anchor="middle">-</text>
<text x="472.6" y="1911.2" font-size="33.3" text-anchor="middle">-</text>
<text x="528.6" y="1911.2" font-size="33.3" text-anchor="middle">+</text>
<text x="630.1" y="1911.2" font-size="33.3" text-anchor="middle">-</text>
<text x="684.9" y="1911.2" font-size="33.3" text-anchor="middle">-</text>
<text x="740" y="1911.2" font-size="33.3" text-anchor="middle">+</text>
<text x="787" y="1868.7" font-size="40.6" class="b" stroke="#111" fill="#111">SEN177</text>
<text x="787" y="1918.7" font-size="40.6" class="b" stroke="#111" fill="#111">PQ912</text>
<rect x="772.7" y="1304.2" width="53.6" height="30" fill="#34489C"/>
<text x="855.8" y="1332.8" font-size="40.5" class="b" stroke="#111" fill="#111"><tspan class="al" font-size="40.1" textLength="26.5" lengthAdjust="spacingAndGlyphs">α</tspan>hCD47-2D3</text>
<rect x="772.7" y="1366.4" width="53.6" height="30" fill="#048243"/>
<text x="855.8" y="1395" font-size="40.5" class="b" stroke="#111" fill="#111"><tspan class="al" font-size="40.1" textLength="26.5" lengthAdjust="spacingAndGlyphs">α</tspan>hCD47-CC2C6</text>
<rect x="772.7" y="1428.3" width="53.6" height="30" fill="#4A8BCA"/>
<text x="855.8" y="1456.9" font-size="40.5" class="b" stroke="#111" fill="#111">hSIRP<tspan class="al" font-size="40.1" textLength="26.5" lengthAdjust="spacingAndGlyphs">α</tspan>-Fc</text>
<line x1="209" y1="1481.8" x2="209" y2="1485" stroke="#000" stroke-width="4.3"/>
<line x1="198.2" y1="1481.8" x2="219.8" y2="1481.8" stroke="#000" stroke-width="4.3" stroke-linecap="round"/>
<line x1="198.2" y1="1485" x2="219.8" y2="1485" stroke="#000" stroke-width="4.3" stroke-linecap="round"/>
<circle cx="193.4" cy="1479.4" r="4.9"/>
<circle cx="224.2" cy="1484.3" r="4.9"/>
<circle cx="208.2" cy="1487.3" r="4.9"/>
<line x1="263.9" y1="1504.5" x2="263.9" y2="1509.4" stroke="#000" stroke-width="4.3"/>
<line x1="253" y1="1504.5" x2="274.8" y2="1504.5" stroke="#000" stroke-width="4.3" stroke-linecap="round"/>
<line x1="253" y1="1509.4" x2="274.8" y2="1509.4" stroke="#000" stroke-width="4.3" stroke-linecap="round"/>
<circle cx="248.3" cy="1505.2" r="4.9"/>
<circle cx="279" cy="1505.2" r="4.9"/>
<circle cx="263.5" cy="1511.9" r="4.9"/>
<line x1="319" y1="1498.6" x2="319" y2="1501" stroke="#000" stroke-width="4.3"/>
<line x1="308.1" y1="1498.6" x2="329.9" y2="1498.6" stroke="#000" stroke-width="4.3" stroke-linecap="round"/>
<line x1="308.1" y1="1501" x2="329.9" y2="1501" stroke="#000" stroke-width="4.3" stroke-linecap="round"/>
<circle cx="303.7" cy="1497.6" r="4.9"/>
<circle cx="334.4" cy="1498.6" r="4.9"/>
<circle cx="318.9" cy="1502.8" r="4.9"/>
<line x1="419.2" y1="1483" x2="419.2" y2="1485" stroke="#000" stroke-width="4.3"/>
<line x1="408.3" y1="1483" x2="430.1" y2="1483" stroke="#000" stroke-width="4.3" stroke-linecap="round"/>
<line x1="408.3" y1="1485" x2="430.1" y2="1485" stroke="#000" stroke-width="4.3" stroke-linecap="round"/>
<polygon points="403.8,1478.1 398.9,1486.9 408.7,1486.9"/>
<polygon points="434.6,1478.1 429.7,1486.9 439.5,1486.9"/>
<polygon points="419.1,1480.1 414.2,1488.9 424,1488.9"/>
<line x1="474.4" y1="1751.5" x2="474.4" y2="1754" stroke="#000" stroke-width="4.3"/>
<line x1="463.5" y1="1751.5" x2="485.2" y2="1751.5" stroke="#000" stroke-width="4.3" stroke-linecap="round"/>
<line x1="463.5" y1="1754" x2="485.2" y2="1754" stroke="#000" stroke-width="4.3" stroke-linecap="round"/>
<polygon points="459,1746.7 454.1,1755.5 463.9,1755.5"/>
<polygon points="489.8,1746.7 484.9,1755.5 494.7,1755.5"/>
<polygon points="474.3,1749.9 469.4,1758.7 479.2,1758.7"/>
<line x1="529.3" y1="1738.3" x2="529.3" y2="1742.5" stroke="#000" stroke-width="4.3"/>
<line x1="518.4" y1="1738.3" x2="540.1" y2="1738.3" stroke="#000" stroke-width="4.3" stroke-linecap="round"/>
<line x1="518.4" y1="1742.5" x2="540.1" y2="1742.5" stroke="#000" stroke-width="4.3" stroke-linecap="round"/>
<polygon points="513.9,1732.6 509,1741.4 518.8,1741.4"/>
<polygon points="544.5,1736.3 539.6,1745.1 549.4,1745.1"/>
<polygon points="529.2,1737.6 524.3,1746.4 534.1,1746.4"/>
<line x1="629.6" y1="1466.6" x2="629.6" y2="1501.3" stroke="#000" stroke-width="4.3"/>
<line x1="618.8" y1="1466.6" x2="640.5" y2="1466.6" stroke="#000" stroke-width="4.3" stroke-linecap="round"/>
<line x1="618.8" y1="1501.3" x2="640.5" y2="1501.3" stroke="#000" stroke-width="4.3" stroke-linecap="round"/>
<polygon points="629.6,1467.1 624.7,1458.3 634.5,1458.3"/>
<polygon points="637.2,1495.4 632.3,1486.6 642.1,1486.6"/>
<polygon points="622.5,1500.3 617.6,1491.5 627.4,1491.5"/>
<line x1="684.8" y1="1696.9" x2="684.8" y2="1712.2" stroke="#000" stroke-width="4.3"/>
<line x1="673.9" y1="1696.9" x2="695.6" y2="1696.9" stroke="#000" stroke-width="4.3" stroke-linecap="round"/>
<line x1="673.9" y1="1712.2" x2="695.6" y2="1712.2" stroke="#000" stroke-width="4.3" stroke-linecap="round"/>
<polygon points="670,1702.3 665.1,1693.5 674.9,1693.5"/>
<polygon points="699.5,1702.3 694.6,1693.5 704.4,1693.5"/>
<polygon points="684.8,1719.5 679.9,1710.7 689.7,1710.7"/>
<line x1="739.7" y1="1676.7" x2="739.7" y2="1688.3" stroke="#000" stroke-width="4.3"/>
<line x1="728.9" y1="1676.7" x2="750.6" y2="1676.7" stroke="#000" stroke-width="4.3" stroke-linecap="round"/>
<line x1="728.9" y1="1688.3" x2="750.6" y2="1688.3" stroke="#000" stroke-width="4.3" stroke-linecap="round"/>
<polygon points="724.2,1679.7 719.3,1670.9 729.1,1670.9"/>
<polygon points="754.4,1684.1 749.5,1675.3 759.3,1675.3"/>
<polygon points="739.7,1694.4 734.8,1685.6 744.6,1685.6"/>
<line x1="419.4" y1="1411.9" x2="534.1" y2="1411.9" stroke="#111" stroke-width="4.3"/>
<text x="468.6" y="1403.5" class="st">***</text>
<line x1="419.4" y1="1450.6" x2="475" y2="1450.6" stroke="#111" stroke-width="4.3"/>
<text x="447.5" y="1442.9" class="st">***</text>
<line x1="628.1" y1="1405.8" x2="739.4" y2="1405.8" stroke="#111" stroke-width="4.3"/>
<text x="683.9" y="1401" class="st">***</text>
<line x1="628.1" y1="1447.9" x2="690.6" y2="1447.9" stroke="#111" stroke-width="4.3"/>
<text x="663.5" y="1439.7" class="st">***</text>
<text x="1224.5" y="1296" font-size="50" font-weight="bold">c</text>
<text x="1647" y="1288.6" font-size="41.7" class="b" stroke="#111" text-anchor="middle" fill="#111">A375</text>
<line x1="1383.5" y1="1304.4" x2="1891.4" y2="1304.4" stroke="#555" stroke-width="1.1"/>
<line x1="1891.4" y1="1304.4" x2="1891.4" y2="1812.1" stroke="#999" stroke-width="1"/>
<line x1="1383.5" y1="1303.9" x2="1383.5" y2="1812.7" stroke="#111" stroke-width="1.3"/>
<line x1="1383.5" y1="1812.1" x2="1891.9" y2="1812.1" stroke="#111" stroke-width="1.3"/>
<line x1="1377.5" y1="1675.1" x2="1383.5" y2="1675.1" stroke="#000" stroke-width="1.3"/>
<line x1="1377.5" y1="1666.7" x2="1383.5" y2="1666.7" stroke="#000" stroke-width="1.3"/>
<line x1="1377.5" y1="1658.4" x2="1383.5" y2="1658.4" stroke="#000" stroke-width="1.3"/>
<line x1="1377.5" y1="1640.8" x2="1383.5" y2="1640.8" stroke="#000" stroke-width="1.3"/>
<line x1="1377.5" y1="1633.6" x2="1383.5" y2="1633.6" stroke="#000" stroke-width="1.3"/>
<line x1="1377.5" y1="1627.1" x2="1383.5" y2="1627.1" stroke="#000" stroke-width="1.3"/>
<line x1="1377.5" y1="1620.4" x2="1383.5" y2="1620.4" stroke="#000" stroke-width="1.3"/>
<line x1="1373" y1="1649.2" x2="1383.5" y2="1649.2" stroke="#000" stroke-width="2.6"/>
<line x1="1369" y1="1612.7" x2="1383.5" y2="1612.7" stroke="#000" stroke-width="3.4"/>
<line x1="1377.5" y1="1715.7" x2="1383.5" y2="1715.7" stroke="#000" stroke-width="1.3"/>
<line x1="1377.5" y1="1724.1" x2="1383.5" y2="1724.1" stroke="#000" stroke-width="1.3"/>
<line x1="1377.5" y1="1732.4" x2="1383.5" y2="1732.4" stroke="#000" stroke-width="1.3"/>
<line x1="1377.5" y1="1750" x2="1383.5" y2="1750" stroke="#000" stroke-width="1.3"/>
<line x1="1377.5" y1="1757.2" x2="1383.5" y2="1757.2" stroke="#000" stroke-width="1.3"/>
<line x1="1377.5" y1="1763.7" x2="1383.5" y2="1763.7" stroke="#000" stroke-width="1.3"/>
<line x1="1377.5" y1="1770.4" x2="1383.5" y2="1770.4" stroke="#000" stroke-width="1.3"/>
<line x1="1373" y1="1741.6" x2="1383.5" y2="1741.6" stroke="#000" stroke-width="2.6"/>
<line x1="1369" y1="1778.1" x2="1383.5" y2="1778.1" stroke="#000" stroke-width="3.4"/>
<line x1="1377" y1="1695.4" x2="1383.5" y2="1695.4" stroke="#000" stroke-width="22"/>
<line x1="1369.5" y1="1685.6" x2="1383.5" y2="1685.6" stroke="#000" stroke-width="3.4"/>
<line x1="1369.5" y1="1696.2" x2="1383.5" y2="1696.2" stroke="#000" stroke-width="3.4"/>
<line x1="1369.5" y1="1706" x2="1383.5" y2="1706" stroke="#000" stroke-width="3.4"/>
<line x1="1374.5" y1="1690.9" x2="1383.5" y2="1690.9" stroke="#000" stroke-width="2"/>
<line x1="1374.5" y1="1701.1" x2="1383.5" y2="1701.1" stroke="#000" stroke-width="2"/>
<line x1="1377" y1="1570.9" x2="1383.5" y2="1570.9" stroke="#000" stroke-width="1.4"/>
<line x1="1377" y1="1546.4" x2="1383.5" y2="1546.4" stroke="#000" stroke-width="1.4"/>
<line x1="1377" y1="1529.1" x2="1383.5" y2="1529.1" stroke="#000" stroke-width="1.4"/>
<line x1="1372.7" y1="1515.6" x2="1383.5" y2="1515.6" stroke="#000" stroke-width="2"/>
<line x1="1377" y1="1504.6" x2="1383.5" y2="1504.6" stroke="#000" stroke-width="1.4"/>
<line x1="1377" y1="1495.3" x2="1383.5" y2="1495.3" stroke="#000" stroke-width="1.4"/>
<line x1="1377" y1="1487.3" x2="1383.5" y2="1487.3" stroke="#000" stroke-width="1.4"/>
<line x1="1377" y1="1480.2" x2="1383.5" y2="1480.2" stroke="#000" stroke-width="1.4"/>
<line x1="1369" y1="1473.8" x2="1383.5" y2="1473.8" stroke="#000" stroke-width="3.4"/>
<line x1="1377" y1="1437" x2="1383.5" y2="1437" stroke="#000" stroke-width="1.4"/>
<line x1="1377" y1="1415.4" x2="1383.5" y2="1415.4" stroke="#000" stroke-width="1.4"/>
<line x1="1377" y1="1400.1" x2="1383.5" y2="1400.1" stroke="#000" stroke-width="1.4"/>
<line x1="1372.7" y1="1388.2" x2="1383.5" y2="1388.2" stroke="#000" stroke-width="2"/>
<line x1="1377" y1="1378.6" x2="1383.5" y2="1378.6" stroke="#000" stroke-width="1.4"/>
<line x1="1377" y1="1370.4" x2="1383.5" y2="1370.4" stroke="#000" stroke-width="1.4"/>
<line x1="1377" y1="1363.3" x2="1383.5" y2="1363.3" stroke="#000" stroke-width="1.4"/>
<line x1="1377" y1="1357" x2="1383.5" y2="1357" stroke="#000" stroke-width="1.4"/>
<line x1="1369" y1="1351.4" x2="1383.5" y2="1351.4" stroke="#000" stroke-width="3.4"/>
<line x1="1377.5" y1="1314.6" x2="1383.5" y2="1314.6" stroke="#000" stroke-width="1.3"/>
<line x1="1518.9" y1="1812.1" x2="1518.9" y2="1818.1" stroke="#000" stroke-width="1.3"/>
<line x1="1527.5" y1="1812.1" x2="1527.5" y2="1818.1" stroke="#000" stroke-width="1.3"/>
<line x1="1535.9" y1="1812.1" x2="1535.9" y2="1818.1" stroke="#000" stroke-width="1.3"/>
<line x1="1553.6" y1="1812.1" x2="1553.6" y2="1818.1" stroke="#000" stroke-width="1.3"/>
<line x1="1560.8" y1="1812.1" x2="1560.8" y2="1818.1" stroke="#000" stroke-width="1.3"/>
<line x1="1567.5" y1="1812.1" x2="1567.5" y2="1818.1" stroke="#000" stroke-width="1.3"/>
<line x1="1574.2" y1="1812.1" x2="1574.2" y2="1818.1" stroke="#000" stroke-width="1.3"/>
<line x1="1545.1" y1="1812.1" x2="1545.1" y2="1822.6" stroke="#000" stroke-width="2.6"/>
<line x1="1582" y1="1812.1" x2="1582" y2="1826.6" stroke="#000" stroke-width="3.4"/>
<line x1="1478.1" y1="1812.1" x2="1478.1" y2="1818.1" stroke="#000" stroke-width="1.3"/>
<line x1="1469.5" y1="1812.1" x2="1469.5" y2="1818.1" stroke="#000" stroke-width="1.3"/>
<line x1="1461.1" y1="1812.1" x2="1461.1" y2="1818.1" stroke="#000" stroke-width="1.3"/>
<line x1="1443.4" y1="1812.1" x2="1443.4" y2="1818.1" stroke="#000" stroke-width="1.3"/>
<line x1="1436.2" y1="1812.1" x2="1436.2" y2="1818.1" stroke="#000" stroke-width="1.3"/>
<line x1="1429.5" y1="1812.1" x2="1429.5" y2="1818.1" stroke="#000" stroke-width="1.3"/>
<line x1="1422.8" y1="1812.1" x2="1422.8" y2="1818.1" stroke="#000" stroke-width="1.3"/>
<line x1="1451.9" y1="1812.1" x2="1451.9" y2="1822.6" stroke="#000" stroke-width="2.6"/>
<line x1="1415" y1="1812.1" x2="1415" y2="1826.6" stroke="#000" stroke-width="3.4"/>
<line x1="1498.5" y1="1812.1" x2="1498.5" y2="1818.6" stroke="#000" stroke-width="22"/>
<line x1="1488.7" y1="1812.1" x2="1488.7" y2="1826.1" stroke="#000" stroke-width="3.4"/>
<line x1="1499.3" y1="1812.1" x2="1499.3" y2="1826.1" stroke="#000" stroke-width="3.4"/>
<line x1="1509.1" y1="1812.1" x2="1509.1" y2="1826.1" stroke="#000" stroke-width="3.4"/>
<line x1="1494" y1="1812.1" x2="1494" y2="1821.1" stroke="#000" stroke-width="2"/>
<line x1="1504.2" y1="1812.1" x2="1504.2" y2="1821.1" stroke="#000" stroke-width="2"/>
<line x1="1623.6" y1="1812.1" x2="1623.6" y2="1818.6" stroke="#000" stroke-width="1.4"/>
<line x1="1648" y1="1812.1" x2="1648" y2="1818.6" stroke="#000" stroke-width="1.4"/>
<line x1="1665.3" y1="1812.1" x2="1665.3" y2="1818.6" stroke="#000" stroke-width="1.4"/>
<line x1="1678.7" y1="1812.1" x2="1678.7" y2="1822.9" stroke="#000" stroke-width="2"/>
<line x1="1689.6" y1="1812.1" x2="1689.6" y2="1818.6" stroke="#000" stroke-width="1.4"/>
<line x1="1698.9" y1="1812.1" x2="1698.9" y2="1818.6" stroke="#000" stroke-width="1.4"/>
<line x1="1706.9" y1="1812.1" x2="1706.9" y2="1818.6" stroke="#000" stroke-width="1.4"/>
<line x1="1714" y1="1812.1" x2="1714" y2="1818.6" stroke="#000" stroke-width="1.4"/>
<line x1="1720.3" y1="1812.1" x2="1720.3" y2="1826.6" stroke="#000" stroke-width="3.4"/>
<line x1="1756.9" y1="1812.1" x2="1756.9" y2="1818.6" stroke="#000" stroke-width="1.4"/>
<line x1="1778.3" y1="1812.1" x2="1778.3" y2="1818.6" stroke="#000" stroke-width="1.4"/>
<line x1="1793.5" y1="1812.1" x2="1793.5" y2="1818.6" stroke="#000" stroke-width="1.4"/>
<line x1="1805.2" y1="1812.1" x2="1805.2" y2="1822.9" stroke="#000" stroke-width="2"/>
<line x1="1814.8" y1="1812.1" x2="1814.8" y2="1818.6" stroke="#000" stroke-width="1.4"/>
<line x1="1823" y1="1812.1" x2="1823" y2="1818.6" stroke="#000" stroke-width="1.4"/>
<line x1="1830" y1="1812.1" x2="1830" y2="1818.6" stroke="#000" stroke-width="1.4"/>
<line x1="1836.2" y1="1812.1" x2="1836.2" y2="1818.6" stroke="#000" stroke-width="1.4"/>
<line x1="1841.8" y1="1812.1" x2="1841.8" y2="1826.6" stroke="#000" stroke-width="3.4"/>
<line x1="1878.4" y1="1812.1" x2="1878.4" y2="1818.1" stroke="#000" stroke-width="1.3"/>
<text class="ft" x="1325.2" y="1363">10<tspan x="1348.8" dy="-11.8">5</tspan></text>
<text class="ft" x="1325.2" y="1485.4">10<tspan x="1348.8" dy="-11.8">4</tspan></text>
<text class="ft" x="1325.2" y="1624.3">10<tspan x="1348.8" dy="-11.8">3</tspan></text>
<text class="ft" x="1319.4" y="1790.8">-10<tspan x="1348.8" dy="-11.8">3</tspan></text>
<text class="ft" x="1336.2" y="1701.6">0</text>
<text class="ft" x="1408.8" y="1855.4">-10<tspan x="1443.8" dy="-11.8">3</tspan></text>
<text class="ft" x="1581.5" y="1855.4">10<tspan x="1604.5" dy="-11.8">3</tspan></text>
<text class="ft" x="1719.8" y="1855.4">10<tspan x="1742.8" dy="-11.8">4</tspan></text>
<text class="ft" x="1841.3" y="1855.4">10<tspan x="1864.3" dy="-11.8">5</tspan></text>
<text class="ft" x="1502" y="1855.4">0</text>
<path d="M1304.7 1598 V1875.7 H1560" fill="none" stroke="#231F20" stroke-width="4.3"/>
<polygon points="1304.7,1564.4 1320.2,1601 1304.7,1594.5 1289.2,1601" fill="#231F20"/>
<polygon points="1593.2,1875.7 1557.4,1890.5 1563.8,1875.7 1557.4,1861" fill="#231F20"/>
<g transform="translate(1277.8 1876) rotate(-90) scale(1 0.955)">
<text x="0" y="0" font-size="34.9" stroke="#111" fill="#111"><tspan class="al" font-size="34.6" textLength="22.9" lengthAdjust="spacingAndGlyphs">α</tspan>hCD47-CC2C6</text>
</g>
<g transform="translate(1312.5 1918.8) scale(0.948 1)">
<text x="0" y="0" font-size="31.6" stroke="#111" fill="#111"><tspan class="al" font-size="31.3" textLength="20.7" lengthAdjust="spacingAndGlyphs">α</tspan>hCD47-B6H12</text>
</g>
<rect x="1906.5" y="1304.4" width="49.7" height="29.9" fill="#34489C"/>
<rect x="1906.5" y="1351" width="49.7" height="30" fill="#048243"/>
<g transform="translate(1983.5 1333.5) scale(0.94 1)">
<text x="0" y="0" font-size="41" class="b" stroke="#111" fill="#111">Control</text>
</g>
<g transform="translate(1983.8 1380.6) scale(0.94 1)">
<text x="0" y="0" font-size="41" class="b" stroke="#111" fill="#111">PQ912</text>
</g>
<path fill="#0A0A8C" d="M1727 1445.4h2.2v2.2h-2.2zM1727 1447.6h4.4v2.2h-4.4zM1746.8 1447.6h2.2v2.2h-2.2zM1746.8 1449.8h2.2v2.2h-2.2zM1733.6 1452h2.2v2.2h-2.2zM1740.2 1454.2h4.4v2.2h-4.4zM1720.4 1456.4h4.4v2.2h-4.4zM1727 1456.4h2.2v2.2h-2.2zM1742.4 1456.4h2.2v2.2h-2.2zM1718.2 1458.6h2.2v2.2h-2.2zM1729.2 1458.6h2.2v2.2h-2.2zM1733.6 1458.6h4.4v2.2h-4.4zM1740.2 1458.6h4.4v2.2h-4.4zM1716 1460.8h2.2v2.2h-2.2zM1720.4 1460.8h2.2v2.2h-2.2zM1724.8 1460.8h2.2v2.2h-2.2zM1729.2 1460.8h2.2v2.2h-2.2zM1733.6 1460.8h4.4v2.2h-4.4zM1713.8 1463h2.2v2.2h-2.2zM1718.2 1463h2.2v2.2h-2.2zM1724.8 1463h8.8v2.2h-8.8zM1738 1463h2.2v2.2h-2.2zM1742.4 1463h2.2v2.2h-2.2zM1746.8 1463h2.2v2.2h-2.2zM1751.2 1463h2.2v2.2h-2.2zM1709.4 1465.2h4.4v2.2h-4.4zM1716 1465.2h15.4v2.2h-15.4zM1733.6 1465.2h4.4v2.2h-4.4zM1742.4 1465.2h2.2v2.2h-2.2zM1749 1465.2h2.2v2.2h-2.2zM1676.4 1467.4h2.2v2.2h-2.2zM1709.4 1467.4h4.4v2.2h-4.4zM1722.6 1467.4h2.2v2.2h-2.2zM1727 1467.4h8.8v2.2h-8.8zM1689.6 1469.6h2.2v2.2h-2.2zM1705 1469.6h2.2v2.2h-2.2zM1711.6 1469.6h4.4v2.2h-4.4zM1718.2 1469.6h15.4v2.2h-15.4zM1735.8 1469.6h4.4v2.2h-4.4zM1744.6 1469.6h2.2v2.2h-2.2zM1751.2 1469.6h2.2v2.2h-2.2zM1685.2 1471.8h2.2v2.2h-2.2zM1689.6 1471.8h2.2v2.2h-2.2zM1700.6 1471.8h4.4v2.2h-4.4zM1707.2 1471.8h26.4v2.2h-26.4zM1694 1474h2.2v2.2h-2.2zM1698.4 1474h2.2v2.2h-2.2zM1702.8 1474h30.8v2.2h-30.8zM1735.8 1474h6.6v2.2h-6.6zM1685.2 1476.2h2.2v2.2h-2.2zM1689.6 1476.2h4.4v2.2h-4.4zM1698.4 1476.2h35.2v2.2h-35.2zM1738 1476.2h6.6v2.2h-6.6zM1680.8 1478.4h2.2v2.2h-2.2zM1691.8 1478.4h2.2v2.2h-2.2zM1696.2 1478.4h2.2v2.2h-2.2zM1700.6 1478.4h4.4v2.2h-4.4zM1707.2 1478.4h24.2v2.2h-24.2zM1733.6 1478.4h2.2v2.2h-2.2zM1691.8 1480.6h37.4v2.2h-37.4zM1731.4 1480.6h2.2v2.2h-2.2zM1735.8 1480.6h2.2v2.2h-2.2zM1665.4 1482.8h2.2v2.2h-2.2zM1678.6 1482.8h2.2v2.2h-2.2zM1687.4 1482.8h2.2v2.2h-2.2zM1691.8 1482.8h39.6v2.2h-39.6zM1733.6 1482.8h2.2v2.2h-2.2zM1676.4 1485h8.8v2.2h-8.8zM1687.4 1485h44v2.2h-44zM1735.8 1485h2.2v2.2h-2.2zM1676.4 1487.2h2.2v2.2h-2.2zM1680.8 1487.2h52.8v2.2h-52.8zM1735.8 1487.2h2.2v2.2h-2.2zM1742.4 1487.2h2.2v2.2h-2.2zM1658.8 1489.4h2.2v2.2h-2.2zM1669.8 1489.4h2.2v2.2h-2.2zM1676.4 1489.4h48.4v2.2h-48.4zM1727 1489.4h2.2v2.2h-2.2zM1731.4 1489.4h4.4v2.2h-4.4zM1672 1491.6h2.2v2.2h-2.2zM1676.4 1491.6h46.2v2.2h-46.2zM1724.8 1491.6h4.4v2.2h-4.4zM1669.8 1493.8h48.4v2.2h-48.4zM1720.4 1493.8h6.6v2.2h-6.6zM1733.6 1493.8h2.2v2.2h-2.2zM1663.2 1496h2.2v2.2h-2.2zM1667.6 1496h52.8v2.2h-52.8zM1722.6 1496h2.2v2.2h-2.2zM1735.8 1496h4.4v2.2h-4.4zM1654.4 1498.2h6.6v2.2h-6.6zM1665.4 1498.2h2.2v2.2h-2.2zM1672 1498.2h41.8v2.2h-41.8zM1716 1498.2h2.2v2.2h-2.2zM1722.6 1498.2h2.2v2.2h-2.2zM1733.6 1498.2h2.2v2.2h-2.2zM1658.8 1500.4h2.2v2.2h-2.2zM1667.6 1500.4h50.6v2.2h-50.6zM1720.4 1500.4h2.2v2.2h-2.2zM1735.8 1500.4h2.2v2.2h-2.2zM1663.2 1502.6h52.8v2.2h-52.8zM1718.2 1502.6h4.4v2.2h-4.4zM1643.4 1504.8h2.2v2.2h-2.2zM1650 1504.8h2.2v2.2h-2.2zM1656.6 1504.8h2.2v2.2h-2.2zM1661 1504.8h41.8v2.2h-41.8zM1705 1504.8h11v2.2h-11zM1718.2 1504.8h2.2v2.2h-2.2zM1650 1507h2.2v2.2h-2.2zM1656.6 1507h55v2.2h-55zM1718.2 1507h4.4v2.2h-4.4zM1643.4 1509.2h2.2v2.2h-2.2zM1654.4 1509.2h55v2.2h-55zM1716 1509.2h2.2v2.2h-2.2zM1654.4 1511.4h2.2v2.2h-2.2zM1658.8 1511.4h46.2v2.2h-46.2zM1709.4 1511.4h2.2v2.2h-2.2zM1641.2 1513.6h2.2v2.2h-2.2zM1645.6 1513.6h2.2v2.2h-2.2zM1652.2 1513.6h50.6v2.2h-50.6zM1705 1513.6h2.2v2.2h-2.2zM1713.8 1513.6h2.2v2.2h-2.2zM1720.4 1513.6h2.2v2.2h-2.2zM1647.8 1515.8h46.2v2.2h-46.2zM1696.2 1515.8h4.4v2.2h-4.4zM1702.8 1515.8h4.4v2.2h-4.4zM1718.2 1515.8h2.2v2.2h-2.2zM1628 1518h4.4v2.2h-4.4zM1643.4 1518h2.2v2.2h-2.2zM1647.8 1518h4.4v2.2h-4.4zM1654.4 1518h46.2v2.2h-46.2zM1639 1520.2h6.6v2.2h-6.6zM1647.8 1520.2h48.4v2.2h-48.4zM1698.4 1520.2h4.4v2.2h-4.4zM1705 1520.2h2.2v2.2h-2.2zM1720.4 1520.2h2.2v2.2h-2.2zM1733.6 1520.2h2.2v2.2h-2.2zM1639 1522.4h4.4v2.2h-4.4zM1645.6 1522.4h46.2v2.2h-46.2zM1696.2 1522.4h2.2v2.2h-2.2zM1700.6 1522.4h2.2v2.2h-2.2zM1634.6 1524.6h2.2v2.2h-2.2zM1643.4 1524.6h48.4v2.2h-48.4zM1702.8 1524.6h2.2v2.2h-2.2zM1632.4 1526.8h2.2v2.2h-2.2zM1641.2 1526.8h52.8v2.2h-52.8zM1705 1526.8h2.2v2.2h-2.2zM1630.2 1529h2.2v2.2h-2.2zM1641.2 1529h48.4v2.2h-48.4zM1639 1531.2h46.2v2.2h-46.2zM1716 1531.2h2.2v2.2h-2.2zM1639 1533.4h35.2v2.2h-35.2zM1676.4 1533.4h2.2v2.2h-2.2zM1621.4 1535.6h4.4v2.2h-4.4zM1630.2 1535.6h2.2v2.2h-2.2zM1636.8 1535.6h28.6v2.2h-28.6zM1667.6 1535.6h8.8v2.2h-8.8zM1689.6 1535.6h4.4v2.2h-4.4zM1614.8 1537.8h2.2v2.2h-2.2zM1630.2 1537.8h2.2v2.2h-2.2zM1634.6 1537.8h37.4v2.2h-37.4zM1676.4 1537.8h2.2v2.2h-2.2zM1680.8 1537.8h2.2v2.2h-2.2zM1687.4 1537.8h2.2v2.2h-2.2zM1625.8 1540h4.4v2.2h-4.4zM1634.6 1540h8.8v2.2h-8.8zM1645.6 1540h22v2.2h-22zM1672 1540h2.2v2.2h-2.2zM1625.8 1542.2h2.2v2.2h-2.2zM1632.4 1542.2h8.8v2.2h-8.8zM1645.6 1542.2h13.2v2.2h-13.2zM1661 1542.2h8.8v2.2h-8.8zM1683 1542.2h2.2v2.2h-2.2zM1630.2 1544.4h15.4v2.2h-15.4zM1647.8 1544.4h11v2.2h-11zM1661 1544.4h2.2v2.2h-2.2zM1674.2 1544.4h2.2v2.2h-2.2zM1685.2 1544.4h2.2v2.2h-2.2zM1610.4 1546.6h2.2v2.2h-2.2zM1628 1546.6h2.2v2.2h-2.2zM1636.8 1546.6h2.2v2.2h-2.2zM1641.2 1546.6h4.4v2.2h-4.4zM1650 1546.6h6.6v2.2h-6.6zM1658.8 1546.6h2.2v2.2h-2.2zM1667.6 1546.6h2.2v2.2h-2.2zM1608.2 1548.8h2.2v2.2h-2.2zM1632.4 1548.8h4.4v2.2h-4.4zM1639 1548.8h4.4v2.2h-4.4zM1645.6 1548.8h4.4v2.2h-4.4zM1654.4 1548.8h2.2v2.2h-2.2zM1658.8 1548.8h2.2v2.2h-2.2zM1663.2 1548.8h2.2v2.2h-2.2zM1614.8 1551h4.4v2.2h-4.4zM1628 1551h2.2v2.2h-2.2zM1632.4 1551h2.2v2.2h-2.2zM1639 1551h2.2v2.2h-2.2zM1643.4 1551h2.2v2.2h-2.2zM1650 1551h4.4v2.2h-4.4zM1661 1553.2h2.2v2.2h-2.2zM1621.4 1555.4h2.2v2.2h-2.2zM1625.8 1555.4h4.4v2.2h-4.4zM1632.4 1555.4h4.4v2.2h-4.4zM1641.2 1555.4h2.2v2.2h-2.2zM1628 1557.6h2.2v2.2h-2.2zM1636.8 1557.6h2.2v2.2h-2.2zM1663.2 1557.6h2.2v2.2h-2.2zM1621.4 1559.8h2.2v2.2h-2.2zM1625.8 1559.8h2.2v2.2h-2.2zM1639 1559.8h2.2v2.2h-2.2zM1614.8 1562h2.2v2.2h-2.2zM1632.4 1562h2.2v2.2h-2.2zM1654.4 1564.2h2.2v2.2h-2.2zM1669.8 1564.2h2.2v2.2h-2.2zM1656.6 1568.6h2.2v2.2h-2.2z"/>
<path fill="#0A8A0A" d="M1779.8 1531.2h2.2v2.2h-2.2zM1795.2 1540h2.2v2.2h-2.2zM1786.4 1542.2h2.2v2.2h-2.2zM1762.2 1546.6h2.2v2.2h-2.2zM1795.2 1546.6h2.2v2.2h-2.2zM1786.4 1548.8h2.2v2.2h-2.2zM1786.4 1551h2.2v2.2h-2.2zM1751.2 1553.2h2.2v2.2h-2.2zM1779.8 1553.2h2.2v2.2h-2.2zM1786.4 1553.2h6.6v2.2h-6.6zM1795.2 1553.2h2.2v2.2h-2.2zM1749 1555.4h2.2v2.2h-2.2zM1753.4 1555.4h2.2v2.2h-2.2zM1757.8 1555.4h2.2v2.2h-2.2zM1764.4 1555.4h4.4v2.2h-4.4zM1771 1555.4h4.4v2.2h-4.4zM1784.2 1555.4h2.2v2.2h-2.2zM1788.6 1555.4h2.2v2.2h-2.2zM1797.4 1555.4h2.2v2.2h-2.2zM1768.8 1557.6h8.8v2.2h-8.8zM1784.2 1557.6h6.6v2.2h-6.6zM1804 1557.6h2.2v2.2h-2.2zM1755.6 1559.8h2.2v2.2h-2.2zM1764.4 1559.8h2.2v2.2h-2.2zM1771 1559.8h4.4v2.2h-4.4zM1777.6 1559.8h2.2v2.2h-2.2zM1782 1559.8h4.4v2.2h-4.4zM1797.4 1559.8h2.2v2.2h-2.2zM1801.8 1559.8h2.2v2.2h-2.2zM1753.4 1562h2.2v2.2h-2.2zM1757.8 1562h13.2v2.2h-13.2zM1775.4 1562h6.6v2.2h-6.6zM1797.4 1562h2.2v2.2h-2.2zM1751.2 1564.2h15.4v2.2h-15.4zM1771 1564.2h8.8v2.2h-8.8zM1784.2 1564.2h4.4v2.2h-4.4zM1711.6 1566.4h2.2v2.2h-2.2zM1727 1566.4h2.2v2.2h-2.2zM1744.6 1566.4h2.2v2.2h-2.2zM1751.2 1566.4h4.4v2.2h-4.4zM1757.8 1566.4h4.4v2.2h-4.4zM1764.4 1566.4h4.4v2.2h-4.4zM1771 1566.4h8.8v2.2h-8.8zM1720.4 1568.6h2.2v2.2h-2.2zM1740.2 1568.6h13.2v2.2h-13.2zM1755.6 1568.6h8.8v2.2h-8.8zM1766.6 1568.6h19.8v2.2h-19.8zM1788.6 1568.6h2.2v2.2h-2.2zM1724.8 1570.8h2.2v2.2h-2.2zM1742.4 1570.8h41.8v2.2h-41.8zM1788.6 1570.8h2.2v2.2h-2.2zM1799.6 1570.8h2.2v2.2h-2.2zM1733.6 1573h2.2v2.2h-2.2zM1738 1573h8.8v2.2h-8.8zM1749 1573h35.2v2.2h-35.2zM1788.6 1573h2.2v2.2h-2.2zM1711.6 1575.2h2.2v2.2h-2.2zM1718.2 1575.2h2.2v2.2h-2.2zM1727 1575.2h4.4v2.2h-4.4zM1733.6 1575.2h48.4v2.2h-48.4zM1804 1575.2h2.2v2.2h-2.2zM1711.6 1577.4h2.2v2.2h-2.2zM1720.4 1577.4h4.4v2.2h-4.4zM1731.4 1577.4h35.2v2.2h-35.2zM1768.8 1577.4h13.2v2.2h-13.2zM1786.4 1577.4h2.2v2.2h-2.2zM1720.4 1579.6h2.2v2.2h-2.2zM1729.2 1579.6h2.2v2.2h-2.2zM1733.6 1579.6h30.8v2.2h-30.8zM1766.6 1579.6h15.4v2.2h-15.4zM1793 1579.6h2.2v2.2h-2.2zM1718.2 1581.8h4.4v2.2h-4.4zM1724.8 1581.8h2.2v2.2h-2.2zM1731.4 1581.8h41.8v2.2h-41.8zM1775.4 1581.8h4.4v2.2h-4.4zM1788.6 1581.8h2.2v2.2h-2.2zM1713.8 1584h2.2v2.2h-2.2zM1722.6 1584h48.4v2.2h-48.4zM1775.4 1584h2.2v2.2h-2.2zM1720.4 1586.2h2.2v2.2h-2.2zM1724.8 1586.2h44v2.2h-44zM1771 1586.2h2.2v2.2h-2.2zM1779.8 1586.2h2.2v2.2h-2.2zM1702.8 1588.4h2.2v2.2h-2.2zM1709.4 1588.4h2.2v2.2h-2.2zM1716 1588.4h2.2v2.2h-2.2zM1720.4 1588.4h2.2v2.2h-2.2zM1724.8 1588.4h46.2v2.2h-46.2zM1773.2 1588.4h4.4v2.2h-4.4zM1698.4 1590.6h2.2v2.2h-2.2zM1702.8 1590.6h2.2v2.2h-2.2zM1707.2 1590.6h2.2v2.2h-2.2zM1711.6 1590.6h57.2v2.2h-57.2zM1771 1590.6h4.4v2.2h-4.4zM1777.6 1590.6h2.2v2.2h-2.2zM1702.8 1592.8h2.2v2.2h-2.2zM1713.8 1592.8h57.2v2.2h-57.2zM1795.2 1592.8h2.2v2.2h-2.2zM1669.8 1595h2.2v2.2h-2.2zM1707.2 1595h61.6v2.2h-61.6zM1691.8 1597.2h2.2v2.2h-2.2zM1698.4 1597.2h6.6v2.2h-6.6zM1707.2 1597.2h61.6v2.2h-61.6zM1700.6 1599.4h63.8v2.2h-63.8zM1766.6 1599.4h2.2v2.2h-2.2zM1773.2 1599.4h2.2v2.2h-2.2zM1674.2 1601.6h2.2v2.2h-2.2zM1694 1601.6h11v2.2h-11zM1707.2 1601.6h52.8v2.2h-52.8zM1762.2 1601.6h2.2v2.2h-2.2zM1766.6 1601.6h4.4v2.2h-4.4zM1685.2 1603.8h4.4v2.2h-4.4zM1691.8 1603.8h61.6v2.2h-61.6zM1755.6 1603.8h2.2v2.2h-2.2zM1672 1606h2.2v2.2h-2.2zM1691.8 1606h66v2.2h-66zM1760 1606h2.2v2.2h-2.2zM1766.6 1606h2.2v2.2h-2.2zM1678.6 1608.2h2.2v2.2h-2.2zM1683 1608.2h2.2v2.2h-2.2zM1689.6 1608.2h6.6v2.2h-6.6zM1698.4 1608.2h52.8v2.2h-52.8zM1753.4 1608.2h4.4v2.2h-4.4zM1766.6 1608.2h2.2v2.2h-2.2zM1691.8 1610.4h59.4v2.2h-59.4zM1753.4 1610.4h2.2v2.2h-2.2zM1658.8 1612.6h2.2v2.2h-2.2zM1678.6 1612.6h2.2v2.2h-2.2zM1683 1612.6h2.2v2.2h-2.2zM1687.4 1612.6h63.8v2.2h-63.8zM1680.8 1614.8h2.2v2.2h-2.2zM1687.4 1614.8h55v2.2h-55zM1746.8 1614.8h2.2v2.2h-2.2zM1753.4 1614.8h2.2v2.2h-2.2zM1674.2 1617h6.6v2.2h-6.6zM1685.2 1617h61.6v2.2h-61.6zM1749 1617h2.2v2.2h-2.2zM1753.4 1617h4.4v2.2h-4.4zM1771 1617h2.2v2.2h-2.2zM1674.2 1619.2h4.4v2.2h-4.4zM1680.8 1619.2h59.4v2.2h-59.4zM1751.2 1619.2h2.2v2.2h-2.2zM1665.4 1621.4h2.2v2.2h-2.2zM1669.8 1621.4h2.2v2.2h-2.2zM1674.2 1621.4h57.2v2.2h-57.2zM1735.8 1621.4h4.4v2.2h-4.4zM1678.6 1623.6h4.4v2.2h-4.4zM1685.2 1623.6h48.4v2.2h-48.4zM1735.8 1623.6h2.2v2.2h-2.2zM1667.6 1625.8h4.4v2.2h-4.4zM1676.4 1625.8h48.4v2.2h-48.4zM1733.6 1625.8h2.2v2.2h-2.2zM1744.6 1625.8h2.2v2.2h-2.2zM1672 1628h46.2v2.2h-46.2zM1720.4 1628h6.6v2.2h-6.6zM1740.2 1628h2.2v2.2h-2.2zM1665.4 1630.2h2.2v2.2h-2.2zM1676.4 1630.2h2.2v2.2h-2.2zM1680.8 1630.2h39.6v2.2h-39.6zM1729.2 1630.2h2.2v2.2h-2.2zM1665.4 1632.4h2.2v2.2h-2.2zM1676.4 1632.4h33v2.2h-33zM1711.6 1632.4h2.2v2.2h-2.2zM1720.4 1632.4h2.2v2.2h-2.2zM1729.2 1632.4h2.2v2.2h-2.2zM1744.6 1632.4h2.2v2.2h-2.2zM1669.8 1634.6h6.6v2.2h-6.6zM1678.6 1634.6h8.8v2.2h-8.8zM1689.6 1634.6h19.8v2.2h-19.8zM1711.6 1634.6h4.4v2.2h-4.4zM1718.2 1634.6h4.4v2.2h-4.4zM1727 1634.6h2.2v2.2h-2.2zM1658.8 1636.8h2.2v2.2h-2.2zM1663.2 1636.8h2.2v2.2h-2.2zM1667.6 1636.8h8.8v2.2h-8.8zM1678.6 1636.8h28.6v2.2h-28.6zM1709.4 1636.8h2.2v2.2h-2.2zM1713.8 1636.8h2.2v2.2h-2.2zM1718.2 1636.8h4.4v2.2h-4.4zM1724.8 1636.8h2.2v2.2h-2.2zM1667.6 1639h8.8v2.2h-8.8zM1680.8 1639h22v2.2h-22zM1705 1639h2.2v2.2h-2.2zM1722.6 1639h2.2v2.2h-2.2zM1658.8 1641.2h2.2v2.2h-2.2zM1663.2 1641.2h2.2v2.2h-2.2zM1667.6 1641.2h4.4v2.2h-4.4zM1678.6 1641.2h8.8v2.2h-8.8zM1691.8 1641.2h2.2v2.2h-2.2zM1696.2 1641.2h4.4v2.2h-4.4zM1702.8 1641.2h4.4v2.2h-4.4zM1709.4 1641.2h6.6v2.2h-6.6zM1661 1643.4h4.4v2.2h-4.4zM1669.8 1643.4h24.2v2.2h-24.2zM1698.4 1643.4h4.4v2.2h-4.4zM1652.2 1645.6h2.2v2.2h-2.2zM1667.6 1645.6h4.4v2.2h-4.4zM1676.4 1645.6h8.8v2.2h-8.8zM1687.4 1645.6h2.2v2.2h-2.2zM1720.4 1645.6h2.2v2.2h-2.2zM1658.8 1647.8h2.2v2.2h-2.2zM1663.2 1647.8h4.4v2.2h-4.4zM1676.4 1647.8h15.4v2.2h-15.4zM1694 1647.8h2.2v2.2h-2.2zM1698.4 1647.8h2.2v2.2h-2.2zM1705 1647.8h2.2v2.2h-2.2zM1713.8 1647.8h2.2v2.2h-2.2zM1647.8 1650h2.2v2.2h-2.2zM1656.6 1650h2.2v2.2h-2.2zM1672 1650h2.2v2.2h-2.2zM1676.4 1650h4.4v2.2h-4.4zM1689.6 1650h2.2v2.2h-2.2zM1694 1650h2.2v2.2h-2.2zM1698.4 1650h2.2v2.2h-2.2zM1709.4 1650h4.4v2.2h-4.4zM1720.4 1650h2.2v2.2h-2.2zM1654.4 1652.2h2.2v2.2h-2.2zM1661 1652.2h8.8v2.2h-8.8zM1678.6 1652.2h4.4v2.2h-4.4zM1689.6 1652.2h2.2v2.2h-2.2zM1650 1654.4h2.2v2.2h-2.2zM1658.8 1654.4h2.2v2.2h-2.2zM1672 1654.4h2.2v2.2h-2.2zM1680.8 1654.4h4.4v2.2h-4.4zM1689.6 1654.4h2.2v2.2h-2.2zM1672 1656.6h2.2v2.2h-2.2zM1680.8 1656.6h2.2v2.2h-2.2zM1685.2 1656.6h2.2v2.2h-2.2zM1654.4 1658.8h2.2v2.2h-2.2zM1665.4 1658.8h4.4v2.2h-4.4zM1674.2 1658.8h2.2v2.2h-2.2zM1669.8 1661h2.2v2.2h-2.2zM1665.4 1667.6h2.2v2.2h-2.2zM1658.8 1669.8h2.2v2.2h-2.2zM1689.6 1674.2h2.2v2.2h-2.2z"/>
<text x="5" y="2026.5" font-size="50" font-weight="bold">d</text>
<rect x="185.4" y="2208.1" width="45.2" height="327.6" fill="#34489C"/>
<rect x="240.2" y="2178.6" width="45.5" height="357.1" fill="#34489C"/>
<rect x="295" y="2222.2" width="45.2" height="313.5" fill="#34489C"/>
<rect x="350" y="2220.2" width="45.2" height="315.5" fill="#34489C"/>
<rect x="450" y="2208.1" width="45.5" height="327.6" fill="#048243"/>
<rect x="505.4" y="2464.6" width="44.9" height="71.1" fill="#048243"/>
<rect x="560.2" y="2473.5" width="45.2" height="62.2" fill="#048243"/>
<rect x="615" y="2467.9" width="45.2" height="67.8" fill="#048243"/>
<rect x="715.2" y="2208.1" width="45.6" height="327.6" fill="#4A8BCA"/>
<rect x="770.3" y="2429.9" width="44.9" height="105.8" fill="#4A8BCA"/>
<rect x="825" y="2426.6" width="45.3" height="109.1" fill="#4A8BCA"/>
<rect x="879.8" y="2419.4" width="45" height="116.3" fill="#4A8BCA"/>
<line x1="163" y1="2042.1" x2="163" y2="2537.8" stroke="#000" stroke-width="4.3"/>
<line x1="148.5" y1="2535.7" x2="948.5" y2="2535.7" stroke="#000" stroke-width="4.3"/>
<text x="139.8" y="2548.5" font-size="33.3" text-anchor="end">0.0</text>
<line x1="148.8" y1="2371.9" x2="163" y2="2371.9" stroke="#000" stroke-width="4.3"/>
<text x="139.8" y="2384.7" font-size="33.3" text-anchor="end">0.5</text>
<line x1="148.8" y1="2208.1" x2="163" y2="2208.1" stroke="#000" stroke-width="4.3"/>
<text x="139.8" y="2220.9" font-size="33.3" text-anchor="end">1.0</text>
<line x1="148.8" y1="2044.3" x2="163" y2="2044.3" stroke="#000" stroke-width="4.3"/>
<text x="139.8" y="2057.1" font-size="33.3" text-anchor="end">1.5</text>
<line x1="208" y1="2535.7" x2="208" y2="2550.2" stroke="#000" stroke-width="4.3"/>
<line x1="262.9" y1="2535.7" x2="262.9" y2="2550.2" stroke="#000" stroke-width="4.3"/>
<line x1="317.6" y1="2535.7" x2="317.6" y2="2550.2" stroke="#000" stroke-width="4.3"/>
<line x1="372.6" y1="2535.7" x2="372.6" y2="2550.2" stroke="#000" stroke-width="4.3"/>
<line x1="472.8" y1="2535.7" x2="472.8" y2="2550.2" stroke="#000" stroke-width="4.3"/>
<line x1="527.8" y1="2535.7" x2="527.8" y2="2550.2" stroke="#000" stroke-width="4.3"/>
<line x1="582.8" y1="2535.7" x2="582.8" y2="2550.2" stroke="#000" stroke-width="4.3"/>
<line x1="637.6" y1="2535.7" x2="637.6" y2="2550.2" stroke="#000" stroke-width="4.3"/>
<line x1="738" y1="2535.7" x2="738" y2="2550.2" stroke="#000" stroke-width="4.3"/>
<line x1="792.8" y1="2535.7" x2="792.8" y2="2550.2" stroke="#000" stroke-width="4.3"/>
<line x1="847.6" y1="2535.7" x2="847.6" y2="2550.2" stroke="#000" stroke-width="4.3"/>
<line x1="902.3" y1="2535.7" x2="902.3" y2="2550.2" stroke="#000" stroke-width="4.3"/>
<text x="577.5" y="2038.8" font-size="41.7" class="b" stroke="#111" text-anchor="middle" fill="#111">A431</text>
<text x="82.3" y="2288.5" font-size="34" text-anchor="middle" transform="rotate(-90 82.3 2288.5)" textLength="349" lengthAdjust="spacing">Relative Surface Binding</text>
<text x="209.8" y="2588.5" font-size="33.3" text-anchor="middle">-</text>
<text x="265.5" y="2588.5" font-size="33.3" text-anchor="middle">+</text>
<text x="320.9" y="2588.5" font-size="33.3" text-anchor="middle">-</text>
<text x="376.6" y="2588.5" font-size="33.3" text-anchor="middle">+</text>
<text x="478.1" y="2588.5" font-size="33.3" text-anchor="middle">-</text>
<text x="534" y="2588.5" font-size="33.3" text-anchor="middle">+</text>
<text x="589.7" y="2588.5" font-size="33.3" text-anchor="middle">-</text>
<text x="645.2" y="2588.5" font-size="33.3" text-anchor="middle">+</text>
<text x="747" y="2588.5" font-size="33.3" text-anchor="middle">-</text>
<text x="802.5" y="2588.5" font-size="33.3" text-anchor="middle">+</text>
<text x="858.1" y="2588.5" font-size="33.3" text-anchor="middle">-</text>
<text x="913.5" y="2588.5" font-size="33.3" text-anchor="middle">+</text>
<line x1="186.5" y1="2597.9" x2="289.2" y2="2597.9" stroke="#231F20" stroke-width="3.6"/>
<line x1="299.5" y1="2597.9" x2="402.6" y2="2597.9" stroke="#231F20" stroke-width="3.6"/>
<line x1="455.6" y1="2597.9" x2="558.3" y2="2597.9" stroke="#231F20" stroke-width="3.6"/>
<line x1="568.3" y1="2597.9" x2="671.4" y2="2597.9" stroke="#231F20" stroke-width="3.6"/>
<line x1="725.5" y1="2597.5" x2="828.5" y2="2599" stroke="#231F20" stroke-width="3.6"/>
<line x1="838.5" y1="2598.5" x2="943.6" y2="2600" stroke="#231F20" stroke-width="3.6"/>
<text x="257" y="2630" font-size="33.3" text-anchor="end" transform="rotate(-45 257 2630)">WT</text>
<text x="522" y="2630" font-size="33.3" text-anchor="end" transform="rotate(-45 522 2630)">WT</text>
<text x="796" y="2630" font-size="33.3" text-anchor="end" transform="rotate(-45 796 2630)">WT</text>
<text x="356.5" y="2623.5" font-size="33.3" text-anchor="end" transform="rotate(-45 356.5 2623.5)">QPCTL KO</text>
<text x="637.5" y="2623.5" font-size="33.3" text-anchor="end" transform="rotate(-45 637.5 2623.5)">QPCTL KO</text>
<text x="909.5" y="2623.5" font-size="33.3" text-anchor="end" transform="rotate(-45 909.5 2623.5)">QPCTL KO</text>
<line x1="207.8" y1="2204.8" x2="207.8" y2="2210.6" stroke="#000" stroke-width="4.3"/>
<line x1="197" y1="2204.8" x2="218.7" y2="2204.8" stroke="#000" stroke-width="4.3" stroke-linecap="round"/>
<line x1="197" y1="2210.6" x2="218.7" y2="2210.6" stroke="#000" stroke-width="4.3" stroke-linecap="round"/>
<circle cx="193.1" cy="2204.8" r="4.9"/>
<circle cx="222.9" cy="2209" r="4.9"/>
<circle cx="207.5" cy="2211.5" r="4.9"/>
<line x1="262.6" y1="2168.5" x2="262.6" y2="2188.5" stroke="#000" stroke-width="4.3"/>
<line x1="251.8" y1="2168.5" x2="273.5" y2="2168.5" stroke="#000" stroke-width="4.3" stroke-linecap="round"/>
<line x1="251.8" y1="2188.5" x2="273.5" y2="2188.5" stroke="#000" stroke-width="4.3" stroke-linecap="round"/>
<circle cx="262.6" cy="2166.3" r="4.9"/>
<circle cx="269.1" cy="2179.8" r="4.9"/>
<circle cx="254.6" cy="2188.5" r="4.9"/>
<line x1="317.4" y1="2217" x2="317.4" y2="2228.5" stroke="#000" stroke-width="4.3"/>
<line x1="306.5" y1="2217" x2="328.2" y2="2217" stroke="#000" stroke-width="4.3" stroke-linecap="round"/>
<line x1="306.5" y1="2228.5" x2="328.2" y2="2228.5" stroke="#000" stroke-width="4.3" stroke-linecap="round"/>
<circle cx="302.3" cy="2219.2" r="4.9"/>
<circle cx="332.2" cy="2219.2" r="4.9"/>
<circle cx="317.4" cy="2230.6" r="4.9"/>
<line x1="372.5" y1="2216.8" x2="372.5" y2="2223" stroke="#000" stroke-width="4.3"/>
<line x1="361.6" y1="2216.8" x2="383.4" y2="2216.8" stroke="#000" stroke-width="4.3" stroke-linecap="round"/>
<line x1="361.6" y1="2223" x2="383.4" y2="2223" stroke="#000" stroke-width="4.3" stroke-linecap="round"/>
<circle cx="357" cy="2216.2" r="4.9"/>
<circle cx="387.2" cy="2222.3" r="4.9"/>
<circle cx="371.8" cy="2223.8" r="4.9"/>
<line x1="472.8" y1="2203.8" x2="472.8" y2="2212.5" stroke="#000" stroke-width="4.3"/>
<line x1="461.9" y1="2203.8" x2="483.7" y2="2203.8" stroke="#000" stroke-width="4.3" stroke-linecap="round"/>
<line x1="461.9" y1="2212.5" x2="483.7" y2="2212.5" stroke="#000" stroke-width="4.3" stroke-linecap="round"/>
<polygon points="457.7,2200.5 452.8,2209.3 462.6,2209.3"/>
<polygon points="487,2202.1 482.1,2210.9 491.9,2210.9"/>
<polygon points="472.8,2209.7 467.9,2218.5 477.7,2218.5"/>
<line x1="527.6" y1="2460" x2="527.6" y2="2466.8" stroke="#000" stroke-width="4.3"/>
<line x1="516.8" y1="2460" x2="538.5" y2="2460" stroke="#000" stroke-width="4.3" stroke-linecap="round"/>
<line x1="516.8" y1="2466.8" x2="538.5" y2="2466.8" stroke="#000" stroke-width="4.3" stroke-linecap="round"/>
<polygon points="513,2456.1 508.1,2464.9 517.9,2464.9"/>
<polygon points="542.3,2459.7 537.4,2468.5 547.2,2468.5"/>
<polygon points="527.5,2463.4 522.6,2472.2 532.4,2472.2"/>
<polygon points="567.5,2469.6 562.6,2478.4 572.4,2478.4"/>
<polygon points="582.3,2469.6 577.4,2478.4 587.2,2478.4"/>
<polygon points="597.1,2469.6 592.2,2478.4 602,2478.4"/>
<line x1="637.3" y1="2466.8" x2="637.3" y2="2470.8" stroke="#000" stroke-width="4.3"/>
<line x1="626.4" y1="2466.8" x2="648.1" y2="2466.8" stroke="#000" stroke-width="4.3" stroke-linecap="round"/>
<line x1="626.4" y1="2470.8" x2="648.1" y2="2470.8" stroke="#000" stroke-width="4.3" stroke-linecap="round"/>
<polygon points="622.3,2462.8 617.4,2471.6 627.2,2471.6"/>
<polygon points="652.5,2463.4 647.6,2472.2 657.4,2472.2"/>
<polygon points="637,2466.5 632.1,2475.3 641.9,2475.3"/>
<line x1="737.7" y1="2152.5" x2="737.7" y2="2263.5" stroke="#000" stroke-width="4.3"/>
<line x1="726.9" y1="2152.5" x2="748.6" y2="2152.5" stroke="#000" stroke-width="4.3" stroke-linecap="round"/>
<line x1="726.9" y1="2263.5" x2="748.6" y2="2263.5" stroke="#000" stroke-width="4.3" stroke-linecap="round"/>
<polygon points="737.7,2152.4 732.8,2143.6 742.6,2143.6"/>
<polygon points="737.7,2222.6 732.8,2213.8 742.6,2213.8"/>
<polygon points="737.7,2261.1 732.8,2252.3 742.6,2252.3"/>
<line x1="792.5" y1="2425.5" x2="792.5" y2="2434.8" stroke="#000" stroke-width="4.3"/>
<line x1="781.6" y1="2425.5" x2="803.4" y2="2425.5" stroke="#000" stroke-width="4.3" stroke-linecap="round"/>
<line x1="781.6" y1="2434.8" x2="803.4" y2="2434.8" stroke="#000" stroke-width="4.3" stroke-linecap="round"/>
<polygon points="777.7,2430.4 772.8,2421.6 782.6,2421.6"/>
<polygon points="807.5,2431.9 802.6,2423.1 812.4,2423.1"/>
<polygon points="792.5,2441.9 787.6,2433.1 797.4,2433.1"/>
<line x1="847.5" y1="2420" x2="847.5" y2="2433.2" stroke="#000" stroke-width="4.3"/>
<line x1="836.6" y1="2420" x2="858.4" y2="2420" stroke="#000" stroke-width="4.3" stroke-linecap="round"/>
<line x1="836.6" y1="2433.2" x2="858.4" y2="2433.2" stroke="#000" stroke-width="4.3" stroke-linecap="round"/>
<polygon points="833,2424.3 828.1,2415.5 837.9,2415.5"/>
<polygon points="862.3,2428.6 857.4,2419.8 867.2,2419.8"/>
<polygon points="847.5,2439.7 842.6,2430.9 852.4,2430.9"/>
<line x1="902.3" y1="2409.8" x2="902.3" y2="2428.6" stroke="#000" stroke-width="4.3"/>
<line x1="891.4" y1="2409.8" x2="913.1" y2="2409.8" stroke="#000" stroke-width="4.3" stroke-linecap="round"/>
<line x1="891.4" y1="2428.6" x2="913.1" y2="2428.6" stroke="#000" stroke-width="4.3" stroke-linecap="round"/>
<polygon points="902.3,2412.6 897.4,2403.8 907.2,2403.8"/>
<polygon points="909.4,2424.3 904.5,2415.5 914.3,2415.5"/>
<polygon points="894.6,2433.2 889.7,2424.4 899.5,2424.4"/>
<rect x="1091.7" y="2207.6" width="40.4" height="328.1" fill="#34489C"/>
<rect x="1140" y="2213.5" width="40.4" height="322.2" fill="#34489C"/>
<rect x="1188.6" y="2202" width="40.4" height="333.7" fill="#34489C"/>
<rect x="1237.5" y="2220.7" width="40.4" height="315" fill="#34489C"/>
<rect x="1286.2" y="2240.4" width="40.4" height="295.3" fill="#34489C"/>
<rect x="1334.8" y="2214.5" width="40.4" height="321.2" fill="#34489C"/>
<rect x="1423.7" y="2207.6" width="40.4" height="328.1" fill="#048243"/>
<rect x="1472.3" y="2464.8" width="40.4" height="70.9" fill="#048243"/>
<rect x="1521.2" y="2417.9" width="40.4" height="117.8" fill="#048243"/>
<rect x="1569.8" y="2455.6" width="40.4" height="80.1" fill="#048243"/>
<rect x="1618.5" y="2418.6" width="40.4" height="117.1" fill="#048243"/>
<rect x="1667" y="2456.9" width="40.4" height="78.8" fill="#048243"/>
<rect x="1755.7" y="2207.6" width="40.4" height="328.1" fill="#4A8BCA"/>
<rect x="1804.3" y="2410" width="40.4" height="125.7" fill="#4A8BCA"/>
<rect x="1853" y="2407.4" width="40.4" height="128.3" fill="#4A8BCA"/>
<rect x="1901.8" y="2429.7" width="40.4" height="106" fill="#4A8BCA"/>
<rect x="1950.5" y="2396.9" width="40.4" height="138.8" fill="#4A8BCA"/>
<rect x="1999" y="2415.6" width="40.4" height="120.1" fill="#4A8BCA"/>
<line x1="1071.5" y1="2041.3" x2="1071.5" y2="2537.8" stroke="#000" stroke-width="4.3"/>
<line x1="1057" y1="2535.7" x2="2061" y2="2535.7" stroke="#000" stroke-width="4.3"/>
<text x="1048.3" y="2548.5" font-size="33.3" text-anchor="end">0.0</text>
<line x1="1057.3" y1="2371.6" x2="1071.5" y2="2371.6" stroke="#000" stroke-width="4.3"/>
<text x="1048.3" y="2384.4" font-size="33.3" text-anchor="end">0.5</text>
<line x1="1057.3" y1="2207.6" x2="1071.5" y2="2207.6" stroke="#000" stroke-width="4.3"/>
<text x="1048.3" y="2220.4" font-size="33.3" text-anchor="end">1.0</text>
<line x1="1057.3" y1="2043.5" x2="1071.5" y2="2043.5" stroke="#000" stroke-width="4.3"/>
<text x="1048.3" y="2056.3" font-size="33.3" text-anchor="end">1.5</text>
<line x1="1111.9" y1="2535.7" x2="1111.9" y2="2550.2" stroke="#000" stroke-width="4.3"/>
<line x1="1160.2" y1="2535.7" x2="1160.2" y2="2550.2" stroke="#000" stroke-width="4.3"/>
<line x1="1208.8" y1="2535.7" x2="1208.8" y2="2550.2" stroke="#000" stroke-width="4.3"/>
<line x1="1257.7" y1="2535.7" x2="1257.7" y2="2550.2" stroke="#000" stroke-width="4.3"/>
<line x1="1306.4" y1="2535.7" x2="1306.4" y2="2550.2" stroke="#000" stroke-width="4.3"/>
<line x1="1355" y1="2535.7" x2="1355" y2="2550.2" stroke="#000" stroke-width="4.3"/>
<line x1="1443.9" y1="2535.7" x2="1443.9" y2="2550.2" stroke="#000" stroke-width="4.3"/>
<line x1="1492.5" y1="2535.7" x2="1492.5" y2="2550.2" stroke="#000" stroke-width="4.3"/>
<line x1="1541.4" y1="2535.7" x2="1541.4" y2="2550.2" stroke="#000" stroke-width="4.3"/>
<line x1="1590" y1="2535.7" x2="1590" y2="2550.2" stroke="#000" stroke-width="4.3"/>
<line x1="1638.7" y1="2535.7" x2="1638.7" y2="2550.2" stroke="#000" stroke-width="4.3"/>
<line x1="1687.2" y1="2535.7" x2="1687.2" y2="2550.2" stroke="#000" stroke-width="4.3"/>
<line x1="1775.9" y1="2535.7" x2="1775.9" y2="2550.2" stroke="#000" stroke-width="4.3"/>
<line x1="1824.5" y1="2535.7" x2="1824.5" y2="2550.2" stroke="#000" stroke-width="4.3"/>
<line x1="1873.2" y1="2535.7" x2="1873.2" y2="2550.2" stroke="#000" stroke-width="4.3"/>
<line x1="1922" y1="2535.7" x2="1922" y2="2550.2" stroke="#000" stroke-width="4.3"/>
<line x1="1970.7" y1="2535.7" x2="1970.7" y2="2550.2" stroke="#000" stroke-width="4.3"/>
<line x1="2019.2" y1="2535.7" x2="2019.2" y2="2550.2" stroke="#000" stroke-width="4.3"/>
<text x="1595" y="2038" font-size="41.7" class="b" stroke="#111" text-anchor="middle" fill="#111">A549</text>
<text x="1111.2" y="2588.5" font-size="33.3" text-anchor="middle">-</text>
<text x="1160.2" y="2588.5" font-size="33.3" text-anchor="middle">+</text>
<text x="1209.4" y="2588.5" font-size="33.3" text-anchor="middle">-</text>
<text x="1259" y="2588.5" font-size="33.3" text-anchor="middle">+</text>
<text x="1308.4" y="2588.5" font-size="33.3" text-anchor="middle">-</text>
<text x="1357.6" y="2588.5" font-size="33.3" text-anchor="middle">+</text>
<text x="1447.8" y="2588.5" font-size="33.3" text-anchor="middle">-</text>
<text x="1497" y="2588.5" font-size="33.3" text-anchor="middle">+</text>
<text x="1546.6" y="2588.5" font-size="33.3" text-anchor="middle">-</text>
<text x="1595.9" y="2588.5" font-size="33.3" text-anchor="middle">+</text>
<text x="1645.2" y="2588.5" font-size="33.3" text-anchor="middle">-</text>
<text x="1694.4" y="2588.5" font-size="33.3" text-anchor="middle">+</text>
<text x="1784.3" y="2588.5" font-size="33.3" text-anchor="middle">-</text>
<text x="1833.6" y="2588.5" font-size="33.3" text-anchor="middle">+</text>
<text x="1882.9" y="2588.5" font-size="33.3" text-anchor="middle">-</text>
<text x="1932.4" y="2588.5" font-size="33.3" text-anchor="middle">+</text>
<text x="1981.8" y="2588.5" font-size="33.3" text-anchor="middle">-</text>
<text x="2030.9" y="2588.5" font-size="33.3" text-anchor="middle">+</text>
<line x1="1093.4" y1="2600" x2="1187" y2="2600" stroke="#231F20" stroke-width="3.6"/>
<line x1="1192.1" y1="2600" x2="1285.7" y2="2600" stroke="#231F20" stroke-width="3.6"/>
<line x1="1290.8" y1="2600" x2="1384.4" y2="2600" stroke="#231F20" stroke-width="3.6"/>
<line x1="1432.4" y1="2600" x2="1526" y2="2600" stroke="#231F20" stroke-width="3.6"/>
<line x1="1531.1" y1="2600" x2="1624.7" y2="2600" stroke="#231F20" stroke-width="3.6"/>
<line x1="1629.8" y1="2600" x2="1723.4" y2="2600" stroke="#231F20" stroke-width="3.6"/>
<line x1="1767.2" y1="2600" x2="1860.8" y2="2600" stroke="#231F20" stroke-width="3.6"/>
<line x1="1865.9" y1="2600" x2="1959.5" y2="2600" stroke="#231F20" stroke-width="3.6"/>
<line x1="1964.6" y1="2600" x2="2058.2" y2="2600" stroke="#231F20" stroke-width="3.6"/>
<text x="2072.3" y="2588.2" font-size="40.6" class="b" stroke="#111" fill="#111">SEN177</text>
<text x="1160" y="2632.3" font-size="33.3" text-anchor="end" transform="rotate(-45 1160 2632.3)">WT</text>
<text x="1250.5" y="2626.5" font-size="33.3" text-anchor="end" transform="rotate(-45 1250.5 2626.5)">QPCTL KO cl3</text>
<text x="1360" y="2626.5" font-size="33.3" text-anchor="end" transform="rotate(-45 1360 2626.5)">QPCTL KO cl9</text>
<text x="1500" y="2632.3" font-size="33.3" text-anchor="end" transform="rotate(-45 1500 2632.3)">WT</text>
<text x="1598.4" y="2626.5" font-size="33.3" text-anchor="end" transform="rotate(-45 1598.4 2626.5)">QPCTL KO cl3</text>
<text x="1685.5" y="2626.5" font-size="33.3" text-anchor="end" transform="rotate(-45 1685.5 2626.5)">QPCTL KO cl9</text>
<text x="1835" y="2632.3" font-size="33.3" text-anchor="end" transform="rotate(-45 1835 2632.3)">WT</text>
<text x="1934" y="2626.5" font-size="33.3" text-anchor="end" transform="rotate(-45 1934 2626.5)">QPCTL KO cl3</text>
<text x="2021" y="2626.5" font-size="33.3" text-anchor="end" transform="rotate(-45 2021 2626.5)">QPCTL KO cl9</text>
<rect x="2066.2" y="2027.7" width="53.6" height="29.5" fill="#34489C"/>
<text x="2149.5" y="2054.7" font-size="40.5" class="b" stroke="#111" fill="#111"><tspan class="al" font-size="40.1" textLength="26.5" lengthAdjust="spacingAndGlyphs">α</tspan>hCD47-2D3</text>
<rect x="2066.2" y="2089.8" width="53.6" height="29.5" fill="#048243"/>
<text x="2149.5" y="2116.8" font-size="40.5" class="b" stroke="#111" fill="#111"><tspan class="al" font-size="40.1" textLength="26.5" lengthAdjust="spacingAndGlyphs">α</tspan>hCD47-CC2C6</text>
<rect x="2066.2" y="2151.5" width="53.6" height="29.5" fill="#4A8BCA"/>
<text x="2149.5" y="2178.5" font-size="40.5" class="b" stroke="#111" fill="#111">hSIRP<tspan class="al" font-size="40.1" textLength="26.5" lengthAdjust="spacingAndGlyphs">α</tspan>-Fc</text>
<line x1="1111.7" y1="2200.8" x2="1111.7" y2="2216.2" stroke="#000" stroke-width="4.3"/>
<line x1="1101.6" y1="2200.8" x2="1121.8" y2="2200.8" stroke="#000" stroke-width="4.3" stroke-linecap="round"/>
<line x1="1101.6" y1="2216.2" x2="1121.8" y2="2216.2" stroke="#000" stroke-width="4.3" stroke-linecap="round"/>
<circle cx="1099.4" cy="2203" r="4.9"/>
<circle cx="1124" cy="2204.8" r="4.9"/>
<circle cx="1111.7" cy="2218.3" r="4.9"/>
<line x1="1160" y1="2207" x2="1160" y2="2220.8" stroke="#000" stroke-width="4.3"/>
<line x1="1149.9" y1="2207" x2="1170.1" y2="2207" stroke="#000" stroke-width="4.3" stroke-linecap="round"/>
<line x1="1149.9" y1="2220.8" x2="1170.1" y2="2220.8" stroke="#000" stroke-width="4.3" stroke-linecap="round"/>
<circle cx="1147.7" cy="2209" r="4.9"/>
<circle cx="1172.3" cy="2209" r="4.9"/>
<circle cx="1160" cy="2223" r="4.9"/>
<line x1="1208.6" y1="2193.7" x2="1208.6" y2="2210.6" stroke="#000" stroke-width="4.3"/>
<line x1="1198.5" y1="2193.7" x2="1218.7" y2="2193.7" stroke="#000" stroke-width="4.3" stroke-linecap="round"/>
<line x1="1198.5" y1="2210.6" x2="1218.7" y2="2210.6" stroke="#000" stroke-width="4.3" stroke-linecap="round"/>
<circle cx="1196.3" cy="2196.8" r="4.9"/>
<circle cx="1221.5" cy="2196.8" r="4.9"/>
<circle cx="1208.6" cy="2213" r="4.9"/>
<line x1="1257.2" y1="2187.8" x2="1257.2" y2="2253.7" stroke="#000" stroke-width="4.3"/>
<line x1="1247.1" y1="2187.8" x2="1267.3" y2="2187.8" stroke="#000" stroke-width="4.3" stroke-linecap="round"/>
<line x1="1247.1" y1="2253.7" x2="1267.3" y2="2253.7" stroke="#000" stroke-width="4.3" stroke-linecap="round"/>
<circle cx="1257.2" cy="2187" r="4.9"/>
<circle cx="1257.2" cy="2220.2" r="4.9"/>
<circle cx="1257.2" cy="2254.6" r="4.9"/>
<line x1="1305.8" y1="2224.8" x2="1305.8" y2="2256.8" stroke="#000" stroke-width="4.3"/>
<line x1="1295.7" y1="2224.8" x2="1315.9" y2="2224.8" stroke="#000" stroke-width="4.3" stroke-linecap="round"/>
<line x1="1295.7" y1="2256.8" x2="1315.9" y2="2256.8" stroke="#000" stroke-width="4.3" stroke-linecap="round"/>
<circle cx="1305.8" cy="2221.4" r="4.9"/>
<circle cx="1299" cy="2249.4" r="4.9"/>
<circle cx="1313" cy="2248.5" r="4.9"/>
<line x1="1354.8" y1="2213" x2="1354.8" y2="2216" stroke="#000" stroke-width="4.3"/>
<line x1="1344.7" y1="2213" x2="1364.9" y2="2213" stroke="#000" stroke-width="4.3" stroke-linecap="round"/>
<line x1="1344.7" y1="2216" x2="1364.9" y2="2216" stroke="#000" stroke-width="4.3" stroke-linecap="round"/>
<circle cx="1341.5" cy="2213" r="4.9"/>
<circle cx="1367.7" cy="2214.6" r="4.9"/>
<circle cx="1354.8" cy="2217" r="4.9"/>
<line x1="1443.7" y1="2199.8" x2="1443.7" y2="2216.2" stroke="#000" stroke-width="4.3"/>
<line x1="1433.6" y1="2199.8" x2="1453.8" y2="2199.8" stroke="#000" stroke-width="4.3" stroke-linecap="round"/>
<line x1="1433.6" y1="2216.2" x2="1453.8" y2="2216.2" stroke="#000" stroke-width="4.3" stroke-linecap="round"/>
<polygon points="1443.7,2194.3 1438.8,2203.1 1448.6,2203.1"/>
<polygon points="1450.8,2203.6 1445.9,2212.4 1455.7,2212.4"/>
<polygon points="1436,2212.1 1431.1,2220.9 1440.9,2220.9"/>
<line x1="1492.3" y1="2460.6" x2="1492.3" y2="2469.8" stroke="#000" stroke-width="4.3"/>
<line x1="1482.2" y1="2460.6" x2="1502.4" y2="2460.6" stroke="#000" stroke-width="4.3" stroke-linecap="round"/>
<line x1="1482.2" y1="2469.8" x2="1502.4" y2="2469.8" stroke="#000" stroke-width="4.3" stroke-linecap="round"/>
<polygon points="1479.4,2456.1 1474.5,2464.9 1484.3,2464.9"/>
<polygon points="1505.2,2462.8 1500.3,2471.6 1510.1,2471.6"/>
<polygon points="1492.3,2465.1 1487.4,2473.9 1497.2,2473.9"/>
<line x1="1541.2" y1="2418.5" x2="1541.2" y2="2421.5" stroke="#000" stroke-width="4.3"/>
<line x1="1531.1" y1="2418.5" x2="1551.3" y2="2418.5" stroke="#000" stroke-width="4.3" stroke-linecap="round"/>
<line x1="1531.1" y1="2421.5" x2="1551.3" y2="2421.5" stroke="#000" stroke-width="4.3" stroke-linecap="round"/>
<polygon points="1528.6,2412.9 1523.7,2421.7 1533.5,2421.7"/>
<polygon points="1553.8,2412.9 1548.9,2421.7 1558.7,2421.7"/>
<polygon points="1541.2,2416.6 1536.3,2425.4 1546.1,2425.4"/>
<line x1="1589.8" y1="2455" x2="1589.8" y2="2458" stroke="#000" stroke-width="4.3"/>
<line x1="1579.7" y1="2455" x2="1599.9" y2="2455" stroke="#000" stroke-width="4.3" stroke-linecap="round"/>
<line x1="1579.7" y1="2458" x2="1599.9" y2="2458" stroke="#000" stroke-width="4.3" stroke-linecap="round"/>
<polygon points="1577,2450.5 1572.1,2459.3 1581.9,2459.3"/>
<polygon points="1603,2451.4 1598.1,2460.2 1607.9,2460.2"/>
<polygon points="1589.8,2453.6 1584.9,2462.4 1594.7,2462.4"/>
<line x1="1638.5" y1="2418.5" x2="1638.5" y2="2422" stroke="#000" stroke-width="4.3"/>
<line x1="1628.4" y1="2418.5" x2="1648.6" y2="2418.5" stroke="#000" stroke-width="4.3" stroke-linecap="round"/>
<line x1="1628.4" y1="2422" x2="1648.6" y2="2422" stroke="#000" stroke-width="4.3" stroke-linecap="round"/>
<polygon points="1626.2,2413.6 1621.3,2422.4 1631.1,2422.4"/>
<polygon points="1650.8,2414.1 1645.9,2422.9 1655.7,2422.9"/>
<polygon points="1638.5,2417.6 1633.6,2426.4 1643.4,2426.4"/>
<line x1="1687" y1="2457.5" x2="1687" y2="2459.5" stroke="#000" stroke-width="4.3"/>
<line x1="1676.9" y1="2457.5" x2="1697.1" y2="2457.5" stroke="#000" stroke-width="4.3" stroke-linecap="round"/>
<line x1="1676.9" y1="2459.5" x2="1697.1" y2="2459.5" stroke="#000" stroke-width="4.3" stroke-linecap="round"/>
<polygon points="1674.5,2453.6 1669.6,2462.4 1679.4,2462.4"/>
<polygon points="1700,2452.9 1695.1,2461.7 1704.9,2461.7"/>
<polygon points="1687,2454.5 1682.1,2463.3 1691.9,2463.3"/>
<line x1="1775.7" y1="2195.4" x2="1775.7" y2="2221.5" stroke="#000" stroke-width="4.3"/>
<line x1="1765.6" y1="2195.4" x2="1785.8" y2="2195.4" stroke="#000" stroke-width="4.3" stroke-linecap="round"/>
<line x1="1765.6" y1="2221.5" x2="1785.8" y2="2221.5" stroke="#000" stroke-width="4.3" stroke-linecap="round"/>
<polygon points="1775.7,2197.2 1770.8,2188.4 1780.6,2188.4"/>
<polygon points="1782.5,2215.7 1777.6,2206.9 1787.4,2206.9"/>
<polygon points="1768.3,2223.4 1763.4,2214.6 1773.2,2214.6"/>
<line x1="1824.6" y1="2401.5" x2="1824.6" y2="2418.5" stroke="#000" stroke-width="4.3"/>
<line x1="1814.5" y1="2401.5" x2="1834.7" y2="2401.5" stroke="#000" stroke-width="4.3" stroke-linecap="round"/>
<line x1="1814.5" y1="2418.5" x2="1834.7" y2="2418.5" stroke="#000" stroke-width="4.3" stroke-linecap="round"/>
<polygon points="1824.6,2404.9 1819.7,2396.1 1829.5,2396.1"/>
<polygon points="1831.7,2410.1 1826.8,2401.3 1836.6,2401.3"/>
<polygon points="1817,2424.3 1812.1,2415.5 1821.9,2415.5"/>
<line x1="1873.2" y1="2405.2" x2="1873.2" y2="2411.4" stroke="#000" stroke-width="4.3"/>
<line x1="1863.1" y1="2405.2" x2="1883.3" y2="2405.2" stroke="#000" stroke-width="4.3" stroke-linecap="round"/>
<line x1="1863.1" y1="2411.4" x2="1883.3" y2="2411.4" stroke="#000" stroke-width="4.3" stroke-linecap="round"/>
<polygon points="1860.6,2408.6 1855.7,2399.8 1865.5,2399.8"/>
<polygon points="1886.2,2410.1 1881.3,2401.3 1891.1,2401.3"/>
<polygon points="1873.2,2417.9 1868.3,2409.1 1878.1,2409.1"/>
<line x1="1921.8" y1="2419" x2="1921.8" y2="2440.6" stroke="#000" stroke-width="4.3"/>
<line x1="1911.7" y1="2419" x2="1931.9" y2="2419" stroke="#000" stroke-width="4.3" stroke-linecap="round"/>
<line x1="1911.7" y1="2440.6" x2="1931.9" y2="2440.6" stroke="#000" stroke-width="4.3" stroke-linecap="round"/>
<polygon points="1915.4,2426.4 1910.5,2417.6 1920.3,2417.6"/>
<polygon points="1929.2,2427.4 1924.3,2418.6 1934.1,2418.6"/>
<polygon points="1921.8,2447.9 1916.9,2439.1 1926.7,2439.1"/>
<line x1="1970.8" y1="2389.2" x2="1970.8" y2="2404.6" stroke="#000" stroke-width="4.3"/>
<line x1="1960.7" y1="2389.2" x2="1980.9" y2="2389.2" stroke="#000" stroke-width="4.3" stroke-linecap="round"/>
<line x1="1960.7" y1="2404.6" x2="1980.9" y2="2404.6" stroke="#000" stroke-width="4.3" stroke-linecap="round"/>
<polygon points="1957.8,2392.6 1952.9,2383.8 1962.7,2383.8"/>
<polygon points="1983.7,2403.9 1978.8,2395.1 1988.6,2395.1"/>
<polygon points="1970.8,2410.1 1965.9,2401.3 1975.7,2401.3"/>
<line x1="2019.4" y1="2408.6" x2="2019.4" y2="2421.5" stroke="#000" stroke-width="4.3"/>
<line x1="2009.3" y1="2408.6" x2="2029.5" y2="2408.6" stroke="#000" stroke-width="4.3" stroke-linecap="round"/>
<line x1="2009.3" y1="2421.5" x2="2029.5" y2="2421.5" stroke="#000" stroke-width="4.3" stroke-linecap="round"/>
<polygon points="2006.8,2414.1 2001.9,2405.3 2011.7,2405.3"/>
<polygon points="2032.3,2417.9 2027.4,2409.1 2037.2,2409.1"/>
<polygon points="2019.4,2428.6 2014.5,2419.8 2024.3,2419.8"/>
<text x="4.5" y="2744.5" font-size="50" font-weight="bold">e</text>
<rect x="180.8" y="3093.8" width="39.8" height="177.2" fill="#34489C"/>
<rect x="229.6" y="2812.6" width="39.8" height="458.4" fill="#34489C"/>
<rect x="277.6" y="3082.9" width="39.8" height="188.1" fill="#34489C"/>
<rect x="325.7" y="3095.5" width="39.8" height="175.5" fill="#34489C"/>
<rect x="413.6" y="3098.6" width="39.8" height="172.4" fill="#4A8BCA"/>
<rect x="462" y="3019.8" width="39.8" height="251.2" fill="#4A8BCA"/>
<rect x="510" y="3096.2" width="39.8" height="174.8" fill="#4A8BCA"/>
<rect x="558.1" y="3101.3" width="39.8" height="169.7" fill="#4A8BCA"/>
<line x1="161" y1="2760" x2="161" y2="3273.2" stroke="#000" stroke-width="4.3"/>
<line x1="146.5" y1="3271" x2="619.1" y2="3271" stroke="#000" stroke-width="4.3"/>
<text x="0" y="0" font-size="34.5" text-anchor="end" transform="translate(138.3 3285.3) scale(0.95 1)">0</text>
<line x1="146.8" y1="3143.8" x2="161" y2="3143.8" stroke="#000" stroke-width="4.3"/>
<text x="0" y="0" font-size="34.5" text-anchor="end" transform="translate(138.3 3158.1) scale(0.95 1)">1000</text>
<line x1="146.8" y1="3016.6" x2="161" y2="3016.6" stroke="#000" stroke-width="4.3"/>
<text x="0" y="0" font-size="34.5" text-anchor="end" transform="translate(138.3 3030.9) scale(0.95 1)">2000</text>
<line x1="146.8" y1="2889.4" x2="161" y2="2889.4" stroke="#000" stroke-width="4.3"/>
<text x="0" y="0" font-size="34.5" text-anchor="end" transform="translate(138.3 2903.7) scale(0.95 1)">3000</text>
<line x1="146.8" y1="2762.2" x2="161" y2="2762.2" stroke="#000" stroke-width="4.3"/>
<text x="0" y="0" font-size="34.5" text-anchor="end" transform="translate(138.3 2776.5) scale(0.95 1)">4000</text>
<line x1="200.7" y1="3271" x2="200.7" y2="3285.5" stroke="#000" stroke-width="4.3"/>
<line x1="249.5" y1="3271" x2="249.5" y2="3285.5" stroke="#000" stroke-width="4.3"/>
<line x1="297.5" y1="3271" x2="297.5" y2="3285.5" stroke="#000" stroke-width="4.3"/>
<line x1="345.6" y1="3271" x2="345.6" y2="3285.5" stroke="#000" stroke-width="4.3"/>
<line x1="433.5" y1="3271" x2="433.5" y2="3285.5" stroke="#000" stroke-width="4.3"/>
<line x1="481.9" y1="3271" x2="481.9" y2="3285.5" stroke="#000" stroke-width="4.3"/>
<line x1="529.9" y1="3271" x2="529.9" y2="3285.5" stroke="#000" stroke-width="4.3"/>
<line x1="578" y1="3271" x2="578" y2="3285.5" stroke="#000" stroke-width="4.3"/>
<text x="0" y="0" font-size="42" class="b" stroke="#111" text-anchor="middle" fill="#111" transform="translate(400 2775.4) scale(0.925 1)">A549</text>
<text x="53.2" y="2987.5" font-size="33.3" text-anchor="middle" transform="rotate(-90 53.2 2987.5)">MFI</text>
<rect x="609.2" y="2774.2" width="41.4" height="25.1" fill="#2E3192"/>
<rect x="609.2" y="2828.3" width="41.4" height="25.4" fill="#29ABE2"/>
<text x="673" y="2798.3" font-size="42" class="b" stroke="#111" fill="#111">Control</text>
<text x="673" y="2853.7" font-size="42" class="b" stroke="#111" fill="#111">SEN177</text>
<line x1="200.9" y1="3086.6" x2="200.9" y2="3100.4" stroke="#000" stroke-width="4.3"/>
<line x1="190.8" y1="3086.6" x2="211.1" y2="3086.6" stroke="#000" stroke-width="4.3" stroke-linecap="round"/>
<line x1="190.8" y1="3100.4" x2="211.1" y2="3100.4" stroke="#000" stroke-width="4.3" stroke-linecap="round"/>
<circle cx="189" cy="3089.8" r="4.9"/>
<circle cx="213.9" cy="3089.8" r="4.9"/>
<circle cx="201.3" cy="3102.4" r="4.9"/>
<line x1="249.3" y1="2804.4" x2="249.3" y2="2817" stroke="#000" stroke-width="4.3"/>
<line x1="239.2" y1="2804.4" x2="259.5" y2="2804.4" stroke="#000" stroke-width="4.3" stroke-linecap="round"/>
<line x1="239.2" y1="2817" x2="259.5" y2="2817" stroke="#000" stroke-width="4.3" stroke-linecap="round"/>
<circle cx="236.3" cy="2805.2" r="4.9"/>
<circle cx="262" cy="2811.5" r="4.9"/>
<circle cx="249.3" cy="2819" r="4.9"/>
<line x1="298" y1="3082" x2="298" y2="3083" stroke="#000" stroke-width="4.3"/>
<line x1="287.8" y1="3082" x2="308.2" y2="3082" stroke="#000" stroke-width="4.3" stroke-linecap="round"/>
<line x1="287.8" y1="3083" x2="308.2" y2="3083" stroke="#000" stroke-width="4.3" stroke-linecap="round"/>
<circle cx="284.4" cy="3082" r="4.9"/>
<circle cx="298.1" cy="3082.7" r="4.9"/>
<circle cx="311.1" cy="3082" r="4.9"/>
<line x1="345.8" y1="3087.4" x2="345.8" y2="3103.2" stroke="#000" stroke-width="4.3"/>
<line x1="335.6" y1="3087.4" x2="356" y2="3087.4" stroke="#000" stroke-width="4.3" stroke-linecap="round"/>
<line x1="335.6" y1="3103.2" x2="356" y2="3103.2" stroke="#000" stroke-width="4.3" stroke-linecap="round"/>
<circle cx="345.8" cy="3087.4" r="4.9"/>
<circle cx="352.5" cy="3094.5" r="4.9"/>
<circle cx="338.7" cy="3103.2" r="4.9"/>
<line x1="433.6" y1="3089.8" x2="433.6" y2="3108.3" stroke="#000" stroke-width="4.3"/>
<line x1="423.4" y1="3089.8" x2="443.8" y2="3089.8" stroke="#000" stroke-width="4.3" stroke-linecap="round"/>
<line x1="423.4" y1="3108.3" x2="443.8" y2="3108.3" stroke="#000" stroke-width="4.3" stroke-linecap="round"/>
<polygon points="433.6,3082.5 428.7,3091.3 438.5,3091.3"/>
<polygon points="440.3,3096.7 435.4,3105.5 445.2,3105.5"/>
<polygon points="427.3,3101.4 422.4,3110.2 432.2,3110.2"/>
<line x1="482.1" y1="3014.6" x2="482.1" y2="3026.8" stroke="#000" stroke-width="4.3"/>
<line x1="471.9" y1="3014.6" x2="492.3" y2="3014.6" stroke="#000" stroke-width="4.3" stroke-linecap="round"/>
<line x1="471.9" y1="3026.8" x2="492.3" y2="3026.8" stroke="#000" stroke-width="4.3" stroke-linecap="round"/>
<polygon points="471.4,3009.7 466.5,3018.5 476.3,3018.5"/>
<polygon points="492.3,3016.8 487.4,3025.6 497.2,3025.6"/>
<polygon points="482.1,3021.9 477.2,3030.7 487,3030.7"/>
<line x1="530.3" y1="3094.5" x2="530.3" y2="3098" stroke="#000" stroke-width="4.3"/>
<line x1="520.1" y1="3094.5" x2="540.4" y2="3094.5" stroke="#000" stroke-width="4.3" stroke-linecap="round"/>
<line x1="520.1" y1="3098" x2="540.4" y2="3098" stroke="#000" stroke-width="4.3" stroke-linecap="round"/>
<polygon points="517.9,3089.6 513,3098.4 522.8,3098.4"/>
<polygon points="530.5,3092.8 525.6,3101.6 535.4,3101.6"/>
<polygon points="542.7,3089.6 537.8,3098.4 547.6,3098.4"/>
<line x1="578.2" y1="3096.5" x2="578.2" y2="3106.3" stroke="#000" stroke-width="4.3"/>
<line x1="568.1" y1="3096.5" x2="588.4" y2="3096.5" stroke="#000" stroke-width="4.3" stroke-linecap="round"/>
<line x1="568.1" y1="3106.3" x2="588.4" y2="3106.3" stroke="#000" stroke-width="4.3" stroke-linecap="round"/>
<polygon points="567.1,3093.6 562.2,3102.4 572,3102.4"/>
<polygon points="589.6,3093.6 584.7,3102.4 594.5,3102.4"/>
<polygon points="578.2,3102.2 573.3,3111 583.1,3111"/>
<text x="0" y="0" font-size="34" text-anchor="middle" transform="translate(251 3329.8) scale(0.95 1)">-</text>
<text x="0" y="0" font-size="34" text-anchor="middle" transform="translate(480.2 3329.8) scale(0.95 1)">-</text>
<text x="0" y="0" font-size="34" text-anchor="middle" transform="translate(297.1 3330.3) scale(0.95 1)">10</text>
<text x="0" y="0" font-size="34" text-anchor="middle" transform="translate(348.5 3330.3) scale(0.95 1)">25</text>
<text x="0" y="0" font-size="34" text-anchor="middle" transform="translate(526.8 3330.3) scale(0.95 1)">10</text>
<text x="0" y="0" font-size="34" text-anchor="middle" transform="translate(577.3 3330.3) scale(0.95 1)">25</text>
<text x="0" y="0" font-size="31.3" transform="translate(616.5 3312.3) scale(0.946 1)">Fold change dilution</text>
<g transform="translate(616.5 3352.5) scale(0.946 1)">
<text x="0" y="0" font-size="31.3"><tspan class="al" font-size="31" textLength="20.5" lengthAdjust="spacingAndGlyphs">α</tspan>CD47-B6H12</text>
</g>
<text x="206" y="3312.5" font-size="31.5" text-anchor="end" transform="rotate(-45 206 3312.5)">Secondary</text>
<text x="203" y="3374" font-size="31.5" text-anchor="end" transform="rotate(-45 203 3374)">only</text>
<text x="450" y="3312.5" font-size="31.5" text-anchor="end" transform="rotate(-45 450 3312.5)">Secondary</text>
<text x="447" y="3374" font-size="31.5" text-anchor="end" transform="rotate(-45 447 3374)">only</text>
</svg>
</body></html>
